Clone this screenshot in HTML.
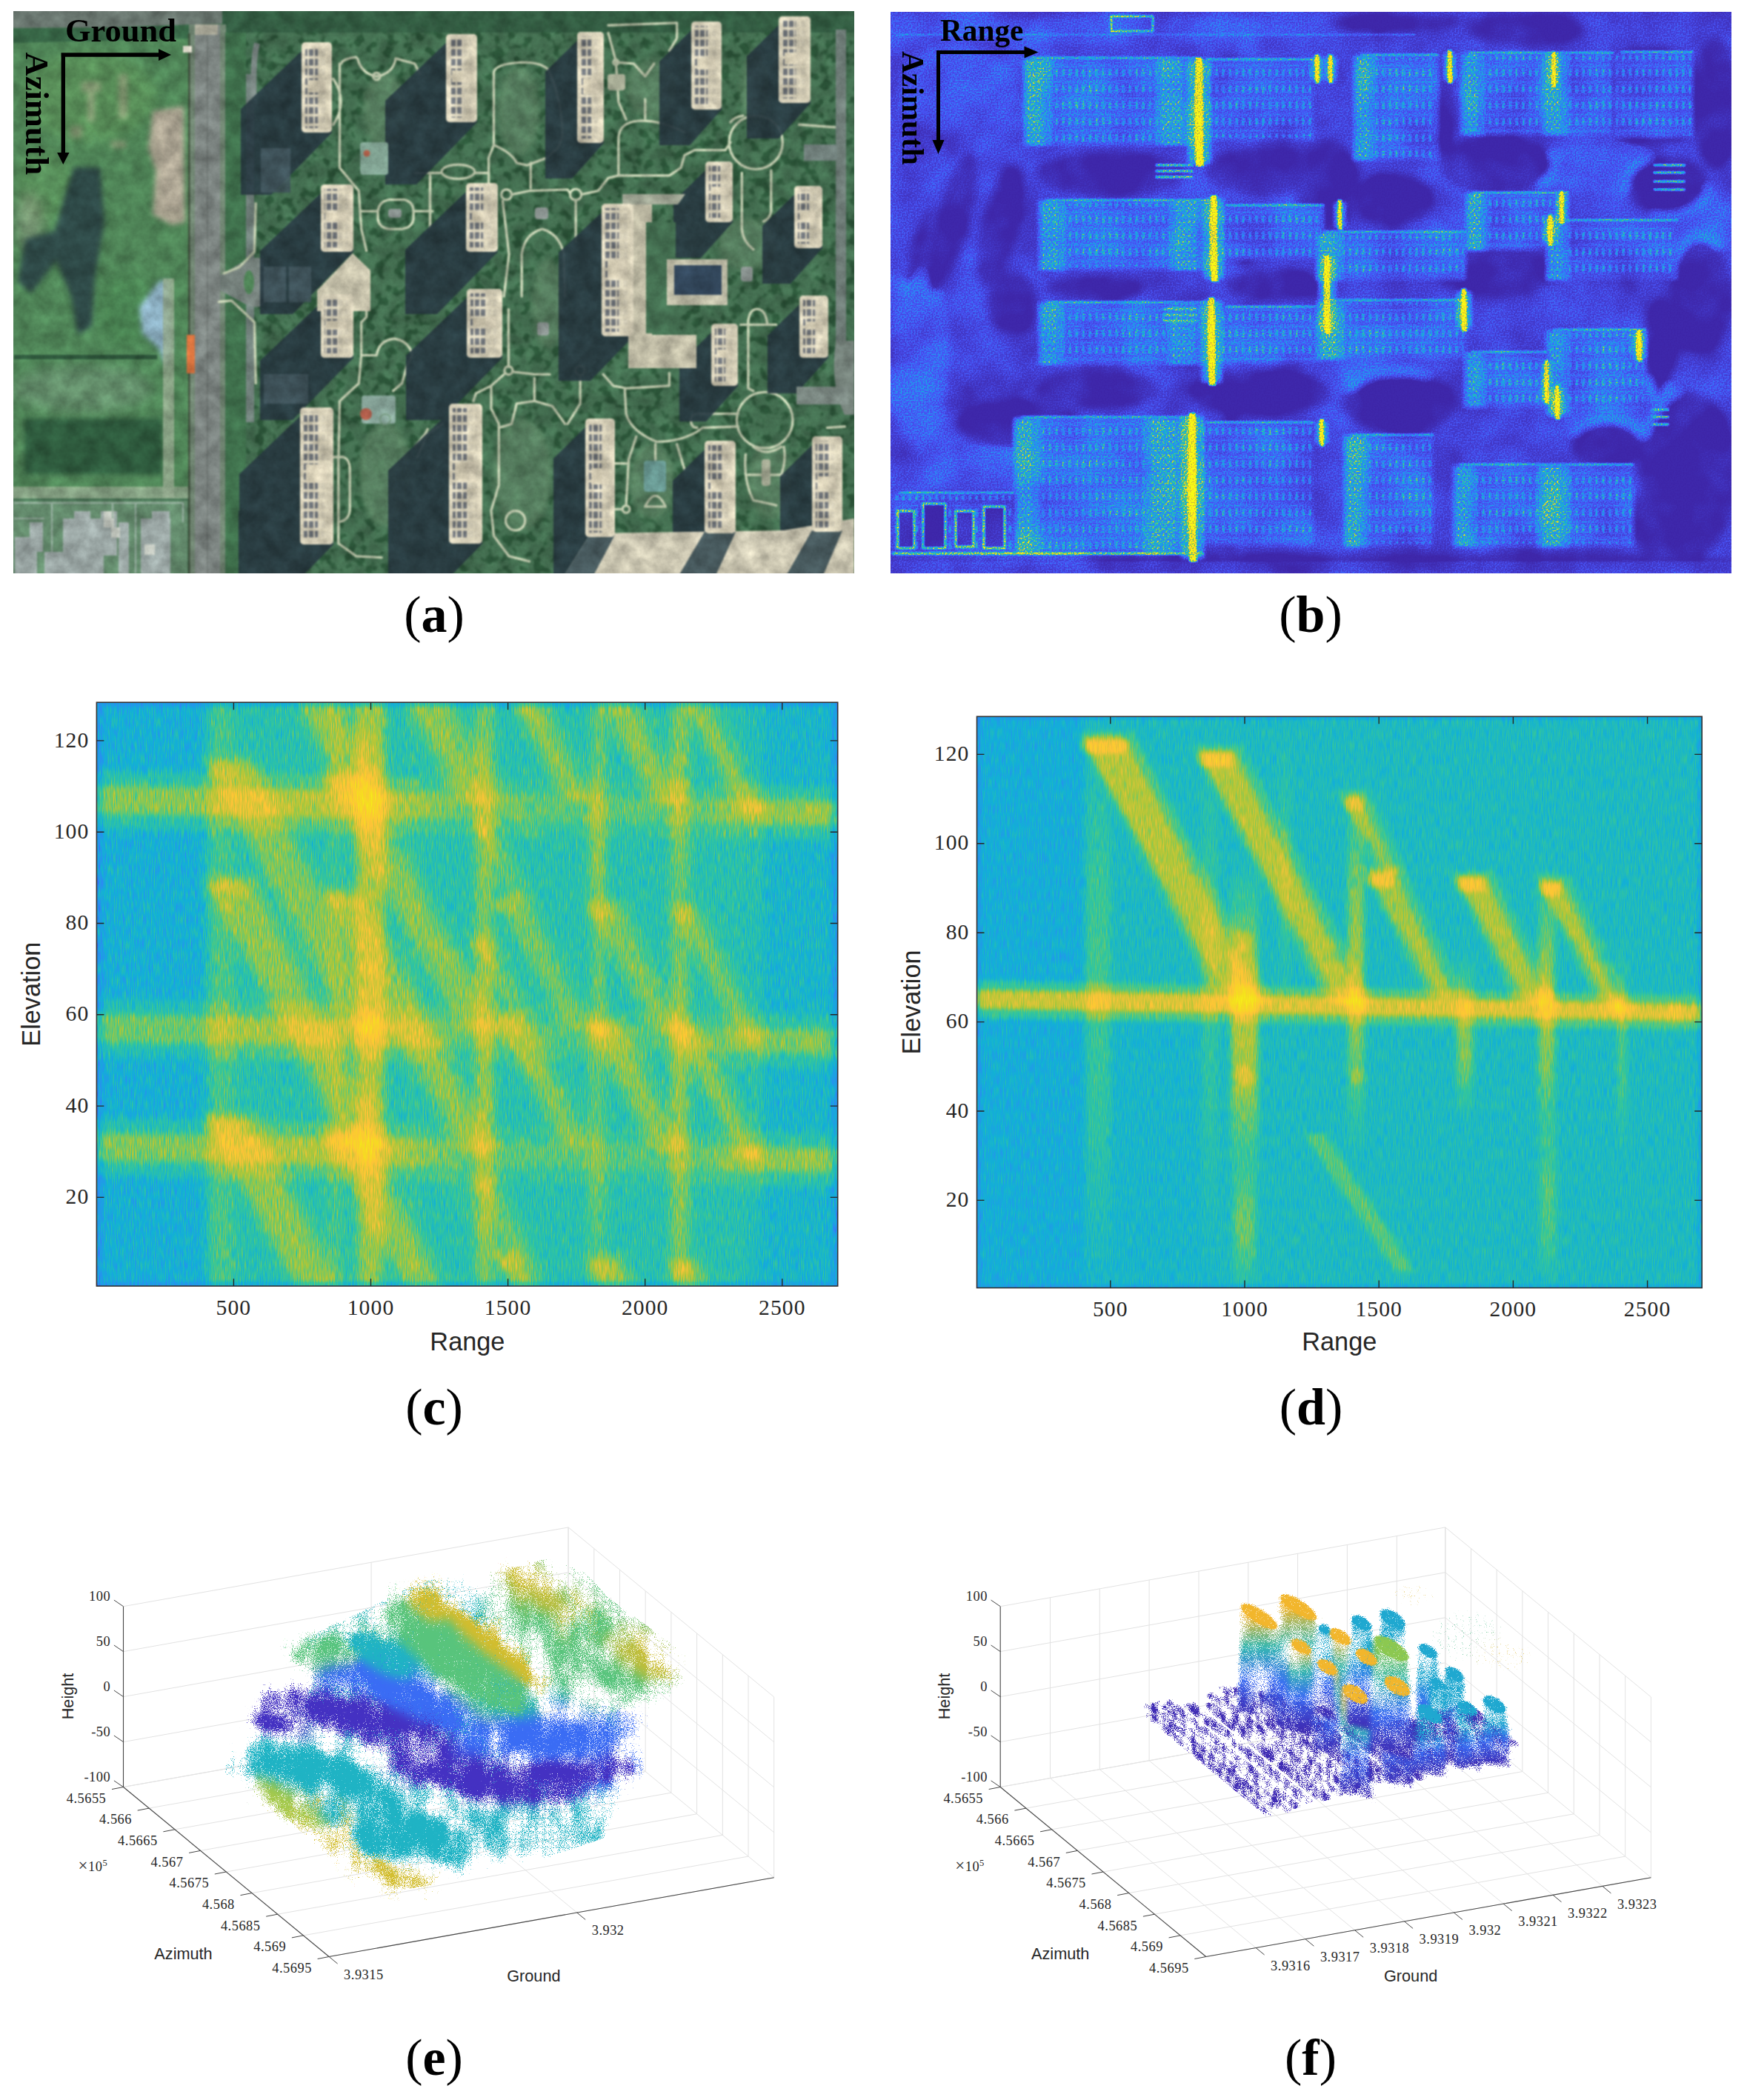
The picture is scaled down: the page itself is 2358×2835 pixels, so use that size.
<!DOCTYPE html>
<html lang="en"><head><meta charset="utf-8"><title>Figure</title>
<style>
html,body{margin:0;padding:0;background:#fff;}
#pg{position:relative;width:2358px;height:2835px;background:#fff;overflow:hidden;}
#pg svg{position:absolute;display:block;overflow:hidden;}
.cap{position:absolute;font-family:"Liberation Serif","DejaVu Serif",serif;font-size:70px;line-height:70px;color:#000;white-space:nowrap;transform:translateX(-50%);}
.cap b{font-weight:bold;}
text{white-space:pre;}
.tk{font-family:"Liberation Serif","DejaVu Serif",serif;fill:#262626;}
.lb{font-family:"Liberation Sans","DejaVu Sans",sans-serif;fill:#262626;}
.ov{font-family:"Liberation Serif","DejaVu Serif",serif;font-weight:bold;fill:#000;}
</style></head><body><div id="pg">
<svg style="left:18px;top:15px" width="1135" height="759" viewBox="18 15 1135 759">
<defs>
<filter id="fa" filterUnits="userSpaceOnUse" x="18" y="15" width="1135" height="759" color-interpolation-filters="sRGB">
<feGaussianBlur in="SourceGraphic" stdDeviation="1.3" result="I"/>
<feTurbulence type="fractalNoise" baseFrequency="0.045" numOctaves="4" seed="7" result="N"/>
<feColorMatrix in="N" type="matrix" values="1 0 0 0 0  1 0 0 0 0  1 0 0 0 0  0 0 0 0 1" result="Ng"/>
<feComposite in="I" in2="Ng" operator="arithmetic" k1="0.5" k2="0.75" k3="0" k4="0"/>
</filter>
<filter id="ft" filterUnits="userSpaceOnUse" x="18" y="15" width="1135" height="759" color-interpolation-filters="sRGB">
<feTurbulence type="fractalNoise" baseFrequency="0.075" numOctaves="2" seed="21"/>
<feColorMatrix type="matrix" values="0 0 0 0 0.17  0 0 0 0 0.33  0 0 0 0 0.22  7 0 0 0 -3.55" result="T"/>
<feComposite in="T" in2="SourceGraphic" operator="atop"/>
</filter>
<filter id="a8" x="-30%" y="-30%" width="160%" height="160%"><feGaussianBlur stdDeviation="8"/></filter>
<filter id="a3" x="-30%" y="-30%" width="160%" height="160%"><feGaussianBlur stdDeviation="3"/></filter>
<pattern id="pp" width="8" height="13" patternUnits="userSpaceOnUse"><rect x="1" y="1.5" width="6" height="9" fill="#59606c"/></pattern>
</defs>
<g filter="url(#fa)">
<rect x="13" y="10" width="1145" height="769" fill="#446f51"/>
<rect x="300" y="10" width="858" height="769" fill="#446f51" filter="url(#ft)"/>
<rect x="13" y="10" width="245" height="650" fill="#4f8457"/>
<g filter="url(#a8)">
<ellipse cx="120" cy="130" rx="90" ry="60" fill="#5a9058" opacity="0.8"/>
<ellipse cx="60" cy="250" rx="40" ry="50" fill="#5a9058" opacity="0.7"/>
<ellipse cx="170" cy="420" rx="40" ry="50" fill="#4a8552" opacity="0.7"/>
<ellipse cx="110" cy="525" rx="95" ry="32" fill="#6a9070" opacity="0.75"/>
<ellipse cx="40" cy="300" rx="18" ry="40" fill="#8a9a80" opacity="0.6"/>
</g>
<g filter="url(#a3)">
<polygon points="100,226 135,226 141,300 128,376 124,440 105,452 96,400 76,352 42,396 24,380 34,322 74,312 88,262" fill="#2f4a46"/>
<polygon points="206,150 248,143 250,300 232,304 206,290 210,230 200,200" fill="#a59f8c"/>
<polygon points="215,160 245,160 246,280 220,280" fill="#b5ad9a" opacity="0.7"/>
<rect x="110" y="110" width="26" height="14" fill="#8f9a78" opacity="0.75"/>
<rect x="118" y="124" width="10" height="40" fill="#8f9a78" opacity="0.75"/>
<rect x="160" y="100" width="12" height="60" fill="#8f9a78" opacity="0.75"/>
<rect x="95" y="170" width="16" height="16" fill="#8f9a78" opacity="0.75"/>
<rect x="150" y="190" width="20" height="10" fill="#8f9a78" opacity="0.75"/>
<polygon points="214,380 228,378 232,470 226,498 214,470 192,450 188,415" fill="#8fb3c6"/>
<rect x="33" y="565" width="186" height="75" fill="#2f5a3d"/>
</g>
<rect x="19" y="479" width="193" height="6" fill="#2c5339"/>
<rect x="13" y="657" width="245" height="16" fill="#8aa285" opacity="0.9"/>
<rect x="220" y="376" width="15" height="296" fill="#93a88d" opacity="0.85"/>
<rect x="13" y="676" width="240" height="105" fill="#638a6c"/>
<rect x="20" y="725" width="30" height="55" fill="#9aa6a4"/>
<rect x="40" y="705" width="18" height="40" fill="#9aa6a4"/>
<rect x="85" y="700" width="55" height="80" fill="#9aa6a4"/>
<rect x="100" y="690" width="22" height="20" fill="#9aa6a4"/>
<rect x="136" y="690" width="22" height="60" fill="#9aa6a4"/>
<rect x="160" y="705" width="14" height="75" fill="#9aa6a4"/>
<rect x="190" y="700" width="40" height="75" fill="#9aa6a4"/>
<rect x="205" y="690" width="24" height="30" fill="#9aa6a4"/>
<rect x="60" y="745" width="30" height="35" fill="#9aa6a4"/>
<rect x="140" y="690" width="14" height="22" fill="#c4c9c0"/>
<rect x="150" y="712" width="12" height="14" fill="#c4c9c0"/>
<rect x="195" y="735" width="14" height="14" fill="#c4c9c0"/>
<path d="M19 679H247V705 M70 679V745 M152 679V700 M183 679V774 M19 700H60" stroke="#93a99b" stroke-width="2.2" fill="none"/>
<path d="M13 10H300V32L150 37L13 38Z" fill="#69766f"/>
<path d="M13 38L150 37L262 33V52L13 58Z" fill="#356446" opacity="0.9"/>
<rect x="300" y="10" width="860" height="34" fill="#315a41" opacity="0.85"/>
<rect x="255" y="33" width="50" height="750" fill="#6e8370"/>
<rect x="263" y="33" width="34" height="750" fill="#7c8481"/>
<rect x="279" y="48" width="1.6" height="735" fill="#6b726f"/>
<rect x="254" y="45" width="2.5" height="735" fill="#3f4f3c"/>
<rect x="263" y="33" width="31" height="14" fill="#a8a797"/>
<rect x="252" y="452" width="11" height="52" fill="#d8743f"/>
<rect x="247" y="62" width="12" height="9" fill="#e8e4d4"/>
<rect x="304" y="44" width="28" height="740" fill="#3f704c"/>
<rect x="332" y="100" width="11" height="470" fill="#76827f" opacity="0.9"/>
<path d="M297 372 L330 352 Q348 345 356 350 L356 412 Q345 418 330 410 L297 392Z" fill="#78847f"/>
<ellipse cx="336" cy="381" rx="7" ry="16" fill="#4f8457"/>
<g filter="url(#a3)">
<ellipse cx="700" cy="150" rx="28" ry="60" fill="#5a8060" opacity="0.85"/>
<ellipse cx="520" cy="150" rx="30" ry="50" fill="#5a8060" opacity="0.85"/>
<ellipse cx="520" cy="640" rx="35" ry="70" fill="#5a8060" opacity="0.85"/>
<ellipse cx="705" cy="640" rx="40" ry="75" fill="#5a8060" opacity="0.85"/>
<ellipse cx="740" cy="410" rx="22" ry="60" fill="#5a8060" opacity="0.85"/>
<ellipse cx="880" cy="120" rx="35" ry="40" fill="#5a8060" opacity="0.85"/>
<ellipse cx="1010" cy="330" rx="40" ry="35" fill="#5a8060" opacity="0.85"/>
<ellipse cx="880" cy="650" rx="30" ry="50" fill="#5a8060" opacity="0.85"/>
<ellipse cx="1040" cy="650" rx="30" ry="50" fill="#5a8060" opacity="0.85"/>
<ellipse cx="1020" cy="120" rx="20" ry="50" fill="#5a8060" opacity="0.85"/>
<ellipse cx="880" cy="380" rx="40" ry="30" fill="#5a8060" opacity="0.85"/>
</g>
<g stroke="#bcc6aa" stroke-width="3.4" fill="none" stroke-linecap="round" stroke-linejoin="round">
<path d="M 666.5 195.8 L 666.5 97.9 Q 668.2 85.9 704.2 84.1 Q 731.7 84.1 740.3 94.4 Q 757.5 130.5 759.2 178.6 Q 757.5 199.2 745.5 206.1 L 738.6 212.9 L 711.1 223.2 L 697.4 219.8 Q 690.5 206.1 666.5 195.8 L 659.6 212.9 L 659.6 247.3"/>
<path d="M 640.7 233.5 L 659.6 233.5 M 690.5 262.7 L 714.5 257.6 L 766.1 255.9 L 769.5 261.0 M 784.6 262.7 L 807.3 257.6 L 821.0 240.4 L 834.8 237.0 L 903.4 237.0 L 918.9 226.7 L 924.0 209.5 L 937.8 202.6 L 979.0 202.6 L 985.9 192.3"/>
<path d="M 985.9 164.9 Q 991.0 158.0 1003.0 156.3 M 777.1 270.3 L 777.1 326.3 M 834.8 237.0 L 834.8 185.5 Q 836.5 164.9 862.2 163.1 Q 889.7 161.4 924.0 178.6"/>
<path d="M 821.0 44.6 L 831.3 82.4 L 834.8 137.4 L 845.1 161.4 M 831.3 84.1 L 855.4 85.9 L 870.8 103.0 L 882.8 85.9 M 870.8 133.9 L 870.8 159.7 M 821.0 34.3 L 913.7 30.9 L 913.7 51.5 L 903.4 68.7"/>
<path d="M 1001.3 233.5 L 1001.3 309.1 Q 1003.0 326.3 1016.8 336.6 M 1040.8 230.1 L 1040.8 285.1 Q 1039.1 295.4 1030.5 298.8 M 1078.6 168.3 L 1126.7 171.7 M 716.3 219.8 L 716.3 254.1"/>
<path d="M 704.2 400.1 L 704.2 343.4 Q 707.7 316.0 731.7 309.1 Q 755.8 316.0 760.9 343.4 L 762.6 400.1 M 580.6 237.0 L 580.6 302.2 M 560.0 233.5 L 594.3 233.5 M 678.5 271.3 L 687.1 343.4 L 680.2 400.1"/>
<path d="M 686.4 417.8 L 686.4 495.1 M 691.9 501.9 L 721.4 505.4 L 742.0 505.4 M 680.2 505.4 L 663.0 520.8 L 663.0 551.7 L 673.3 572.3 L 673.3 654.8 L 663.0 689.1 L 666.5 723.4 L 687.1 750.9 L 714.5 757.8"/>
<path d="M 663.0 520.8 L 642.4 531.1 L 639.0 541.4 M 673.3 577.5 L 690.5 572.3 L 697.4 544.9 L 721.4 541.4 L 721.4 510.5 M 721.4 541.4 L 745.5 548.3 L 762.6 572.3 M 783.2 506.4 L 783.2 544.9 L 766.1 572.3"/>
<path d="M 814.1 505.4 L 827.9 520.8 L 845.1 524.2 L 903.4 520.8 L 903.4 503.6 M 843.3 524.2 L 845.1 558.6 Q 851.9 582.6 886.3 596.4 Q 917.2 596.4 941.2 582.6 L 948.1 577.5 L 996.2 575.8"/>
<path d="M 996.2 558.6 L 941.2 558.6 Q 932.6 558.6 932.6 567.2 Q 932.6 577.5 941.2 577.5 M 858.8 589.5 L 848.5 620.4 L 845.1 682.2 M 884.6 599.8 L 884.6 620.4 M 913.7 599.8 L 924.0 634.1 M 831.3 625.6 L 845.1 625.6 M 831.3 687.4 L 839.9 687.4"/>
<path d="M 870.8 683.9 Q 884.6 654.8 898.3 683.9 Z M 1009.9 431.5 L 1009.9 524.2 L 1016.8 527.7 M 1009.9 438.4 Q 1009.9 417.8 1021.9 417.1 Q 1033.9 417.8 1035.7 438.4 M 999.6 438.4 L 1047.7 438.4"/>
<path d="M 1006.5 613.5 Q 1003.0 647.9 1016.8 675.4 L 1047.7 682.2 M 1058.0 603.2 Q 1061.4 620.4 1054.6 641.0 M 1009.9 641.0 L 1058.0 641.0 M 1016.8 603.2 Q 1033.9 617.0 1054.6 603.2 M 560.0 603.2 L 573.7 586.1 L 577.2 579.2 M 1116.4 577.5 L 1140.4 575.8"/>
<path d="M 458.5 85.9 L 458.5 226.7 L 484.3 257.6 L 487.7 309.1 L 494.6 338.3 M 449.9 106.5 Q 470.5 137.4 449.9 168.3 M 460.2 85.9 Q 463.6 79.0 480.8 77.3"/>
<path d="M 482.5 79.0 Q 487.7 99.6 508.3 103.0 Q 530.6 99.6 534.1 79.0 L 559.8 85.9 L 566.7 99.6"/>
<path d="M 510.0 285.1 Q 511.7 271.3 525.5 269.6 L 546.1 269.6 Q 558.1 273.0 558.1 285.1 L 558.1 295.4 Q 556.4 307.4 542.6 309.1 L 525.5 309.1 Q 511.7 307.4 510.0 295.4 Z M 487.7 285.1 L 510.0 285.1 M 558.1 285.1 L 583.9 285.1 M 580.4 237.0 L 580.4 309.1"/>
<path d="M 302.2 369.2 L 322.8 360.6 L 343.4 340.0 L 345.2 274.8"/>
<path d="M 494.6 380.0 L 494.6 428.1 L 487.7 435.0 L 487.7 479.6 L 508.3 479.6 M 487.7 479.6 L 484.3 517.4 L 458.5 541.4 L 456.8 620.4 L 456.8 733.7 L 480.8 750.9 L 515.2 752.6"/>
<path d="M 449.9 617.0 L 463.6 617.0 Q 472.2 620.4 472.2 634.1 L 472.2 689.1 Q 470.5 702.8 456.8 704.6 M 508.3 479.6 Q 511.7 459.0 532.3 457.3 Q 552.9 460.7 556.4 479.6 L 549.5 493.3 L 542.6 517.4 L 530.6 527.7"/>
<path d="M 295.4 407.5 L 312.5 405.8 L 343.4 435.0 L 345.2 517.4 M 563.2 617.0 L 577.0 586.1 L 597.6 572.3"/>
<ellipse cx="618.4" cy="231.8" rx="22.3" ry="9.6"/>
<ellipse cx="683.6" cy="262.7" rx="6.9" ry="6.9"/>
<ellipse cx="777.1" cy="262.7" rx="7.6" ry="7.6"/>
<ellipse cx="1020.2" cy="192.3" rx="36.1" ry="36.1"/>
<ellipse cx="831.3" cy="84.1" rx="3.4" ry="3.4"/>
<ellipse cx="686.4" cy="500.2" rx="5.5" ry="5.5"/>
<ellipse cx="783.2" cy="500.2" rx="6.2" ry="6.2"/>
<ellipse cx="1032.2" cy="567.2" rx="37.8" ry="37.8"/>
<ellipse cx="845.1" cy="687.4" rx="4.8" ry="4.8"/>
<ellipse cx="695.7" cy="702.8" rx="13.1" ry="13.1"/>
<ellipse cx="508.3" cy="103.0" rx="4.8" ry="4.8"/>
</g>
<path d="M 346.9 58.4 Q 340.0 85.9 343.4 144.2" stroke="#76827f" stroke-width="8" fill="none"/>
<g opacity="0.93">
<polygon points="409,67 325,147 325,263 366,263 448,179 448,67" fill="#283a41"/>
<polygon points="604,56 520,136 520,249 562,249 644,165 644,56" fill="#283a41"/>
<polygon points="781,53 736,97 736,241 772,241 815,193 815,53" fill="#283a41"/>
<polygon points="935,39 890,83 890,196 931,196 974,148 974,39" fill="#283a41"/>
<polygon points="1053,32 1008,76 1008,187 1051,187 1094,139 1094,32" fill="#283a41"/>
<polygon points="435,259 351,339 351,424 395,424 477,340 477,259" fill="#283a41"/>
<polygon points="631,257 547,337 547,424 590,424 672,340 672,257" fill="#283a41"/>
<polygon points="954,228 909,272 909,348 946,348 989,300 989,228" fill="#283a41"/>
<polygon points="1074,261 1029,305 1029,383 1067,383 1110,335 1110,261" fill="#283a41"/>
<polygon points="435,407 351,487 351,567 395,567 477,483 477,407" fill="#283a41"/>
<polygon points="632,400 548,480 548,567 596,567 678,483 678,400" fill="#283a41"/>
<polygon points="962,447 917,491 917,569 953,569 996,521 996,447" fill="#283a41"/>
<polygon points="1081,409 1036,453 1036,531 1075,531 1118,483 1118,409" fill="#283a41"/>
<polygon points="407,560 323,640 323,819 368,819 450,735 450,560" fill="#283a41"/>
<polygon points="608,555 524,635 524,818 569,818 651,734 651,555" fill="#283a41"/>
<polygon points="792,575 747,619 747,773 787,773 830,725 830,575" fill="#283a41"/>
<polygon points="953,605 908,649 908,768 950,768 993,720 993,605" fill="#283a41"/>
<polygon points="1098,599 1053,643 1053,766 1094,766 1137,718 1137,599" fill="#283a41"/>
<polygon points="814,285 754,341 754,514 797,514 855,454 855,285" fill="#283a41"/>
<polygon points="322,690 405,620 405,779 322,779" fill="#283a41"/>
<polygon points="524,690 606,620 606,779 524,779" fill="#283a41"/>
<polygon points="747,640 790,600 790,779 747,779" fill="#283a41"/>
<polygon points="908,660 951,620 951,779 908,779" fill="#283a41"/>
<polygon points="1055,660 1096,620 1096,760 1055,770" fill="#283a41"/>
</g>
<rect x="356" y="360" width="30" height="48" fill="#40535a" opacity="0.9"/>
<rect x="390" y="360" width="30" height="48" fill="#40535a" opacity="0.9"/>
<rect x="356" y="505" width="60" height="40" fill="#40535a" opacity="0.9"/>
<rect x="352" y="200" width="40" height="60" fill="#40535a" opacity="0.9"/>
<polygon points="476,342 500,365 500,420 428,420 428,392" fill="#c9c4ad"/>
<path d="M797 720 L1058 716 L1153 700 L1153 779 L760 779Z" fill="#cbc6b1"/>
<polygon points="797,720 760,779 800,779 830,722" fill="#485a5e"/>
<polygon points="951,718 915,779 965,779 993,718" fill="#485a5e"/>
<polygon points="1096,716 1060,779 1110,779 1137,716" fill="#485a5e"/>
<rect x="1128" y="40" width="14" height="420" fill="#6f7d78"/>
<path d="M1128 460 Q1120 520 1140 560 L1153 560 L1153 460Z" fill="#76837c"/>
<rect x="1075" y="522" width="70" height="24" fill="#7d8a84"/>
<rect x="1085" y="195" width="45" height="22" fill="#71807c"/>
<path d="M848 276 L880 276 L880 452 L940 452 L940 497 L848 497Z" fill="#bdb9a3"/>
<rect x="872" y="300" width="40" height="150" fill="#446f51"/>
<rect x="900" y="350" width="82" height="62" fill="#b9b7a2"/>
<rect x="910" y="358" width="64" height="40" fill="#32465a"/>
<path d="M840 262 H925 L915 276 H840Z" fill="#9aa08f"/>
<rect x="524" y="282" width="18" height="12" rx="4" fill="#8a9390"/>
<rect x="722" y="280" width="18" height="16" rx="4" fill="#8a9390"/>
<rect x="725" y="435" width="16" height="18" rx="4" fill="#8a9390"/>
<rect x="1000" y="360" width="16" height="20" rx="4" fill="#8a9390"/>
<rect x="869" y="622" width="30" height="42" rx="4" fill="#6a9a94"/>
<rect x="1028" y="620" width="12" height="36" rx="4" fill="#a3a892"/>
<rect x="486" y="192" width="38" height="44" rx="4" fill="#7fa090"/>
<rect x="488" y="534" width="46" height="38" rx="4" fill="#86a398"/>
<rect x="820" y="100" width="24" height="22" rx="4" fill="#a8ad96"/>
<circle cx="495" cy="207" r="4.5" fill="#b0604a"/><circle cx="494" cy="559" r="8" fill="#a85a48"/><circle cx="520" cy="566" r="7" fill="none" stroke="#6f8f78" stroke-width="2"/>
<rect x="407" y="57" width="41" height="122" rx="5" fill="#d6cfb8"/>
<rect x="412" y="63" width="29" height="110" fill="url(#pp)" opacity="0.85"/>
<rect x="415" y="108" width="25" height="17" fill="#d2cab2"/>
<rect x="429" y="61" width="15" height="114" fill="#d2cab2" opacity="0.9"/>
<rect x="602" y="46" width="42" height="119" rx="5" fill="#d6cfb8"/>
<rect x="607" y="52" width="30" height="107" fill="url(#pp)" opacity="0.85"/>
<rect x="610" y="95" width="26" height="16" fill="#d2cab2"/>
<rect x="625" y="50" width="15" height="111" fill="#d2cab2" opacity="0.9"/>
<rect x="779" y="43" width="36" height="150" rx="5" fill="#d6cfb8"/>
<rect x="784" y="49" width="24" height="138" fill="url(#pp)" opacity="0.85"/>
<rect x="787" y="106" width="20" height="21" fill="#d2cab2"/>
<rect x="798" y="47" width="13" height="142" fill="#d2cab2" opacity="0.9"/>
<rect x="933" y="29" width="41" height="119" rx="5" fill="#d6cfb8"/>
<rect x="938" y="35" width="29" height="107" fill="url(#pp)" opacity="0.85"/>
<rect x="941" y="78" width="25" height="16" fill="#d2cab2"/>
<rect x="955" y="33" width="15" height="111" fill="#d2cab2" opacity="0.9"/>
<rect x="1051" y="22" width="43" height="117" rx="5" fill="#d6cfb8"/>
<rect x="1056" y="28" width="31" height="105" fill="url(#pp)" opacity="0.85"/>
<rect x="1059" y="71" width="27" height="16" fill="#d2cab2"/>
<rect x="1074" y="26" width="16" height="109" fill="#d2cab2" opacity="0.9"/>
<rect x="433" y="249" width="44" height="91" rx="5" fill="#d6cfb8"/>
<rect x="438" y="255" width="32" height="79" fill="url(#pp)" opacity="0.85"/>
<rect x="441" y="287" width="28" height="12" fill="#d2cab2"/>
<rect x="457" y="253" width="16" height="83" fill="#d2cab2" opacity="0.9"/>
<rect x="629" y="247" width="43" height="93" rx="5" fill="#d6cfb8"/>
<rect x="634" y="253" width="31" height="81" fill="url(#pp)" opacity="0.85"/>
<rect x="637" y="286" width="27" height="13" fill="#d2cab2"/>
<rect x="652" y="251" width="16" height="85" fill="#d2cab2" opacity="0.9"/>
<rect x="952" y="218" width="37" height="82" rx="5" fill="#d6cfb8"/>
<rect x="957" y="224" width="25" height="70" fill="url(#pp)" opacity="0.85"/>
<rect x="960" y="252" width="21" height="11" fill="#d2cab2"/>
<rect x="972" y="222" width="14" height="74" fill="#d2cab2" opacity="0.9"/>
<rect x="1072" y="251" width="38" height="84" rx="5" fill="#d6cfb8"/>
<rect x="1077" y="257" width="26" height="72" fill="url(#pp)" opacity="0.85"/>
<rect x="1080" y="286" width="22" height="11" fill="#d2cab2"/>
<rect x="1092" y="255" width="14" height="76" fill="#d2cab2" opacity="0.9"/>
<rect x="433" y="397" width="44" height="86" rx="5" fill="#d6cfb8"/>
<rect x="438" y="403" width="32" height="74" fill="url(#pp)" opacity="0.85"/>
<rect x="441" y="433" width="28" height="12" fill="#d2cab2"/>
<rect x="457" y="401" width="16" height="78" fill="#d2cab2" opacity="0.9"/>
<rect x="630" y="390" width="48" height="93" rx="5" fill="#d6cfb8"/>
<rect x="635" y="396" width="36" height="81" fill="url(#pp)" opacity="0.85"/>
<rect x="638" y="429" width="32" height="13" fill="#d2cab2"/>
<rect x="656" y="394" width="18" height="85" fill="#d2cab2" opacity="0.9"/>
<rect x="960" y="437" width="36" height="84" rx="5" fill="#d6cfb8"/>
<rect x="965" y="443" width="24" height="72" fill="url(#pp)" opacity="0.85"/>
<rect x="968" y="472" width="20" height="11" fill="#d2cab2"/>
<rect x="979" y="441" width="13" height="76" fill="#d2cab2" opacity="0.9"/>
<rect x="1079" y="399" width="39" height="84" rx="5" fill="#d6cfb8"/>
<rect x="1084" y="405" width="27" height="72" fill="url(#pp)" opacity="0.85"/>
<rect x="1087" y="434" width="23" height="11" fill="#d2cab2"/>
<rect x="1100" y="403" width="14" height="76" fill="#d2cab2" opacity="0.9"/>
<rect x="405" y="550" width="45" height="185" rx="5" fill="#d6cfb8"/>
<rect x="410" y="556" width="33" height="173" fill="url(#pp)" opacity="0.85"/>
<rect x="413" y="627" width="29" height="25" fill="#d2cab2"/>
<rect x="429" y="554" width="17" height="177" fill="#d2cab2" opacity="0.9"/>
<rect x="606" y="545" width="45" height="189" rx="5" fill="#d6cfb8"/>
<rect x="611" y="551" width="33" height="177" fill="url(#pp)" opacity="0.85"/>
<rect x="614" y="624" width="29" height="26" fill="#d2cab2"/>
<rect x="630" y="549" width="17" height="181" fill="#d2cab2" opacity="0.9"/>
<rect x="790" y="565" width="40" height="160" rx="5" fill="#d6cfb8"/>
<rect x="795" y="571" width="28" height="148" fill="url(#pp)" opacity="0.85"/>
<rect x="798" y="632" width="24" height="22" fill="#d2cab2"/>
<rect x="812" y="569" width="15" height="152" fill="#d2cab2" opacity="0.9"/>
<rect x="951" y="595" width="42" height="125" rx="5" fill="#d6cfb8"/>
<rect x="956" y="601" width="30" height="113" fill="url(#pp)" opacity="0.85"/>
<rect x="959" y="647" width="26" height="17" fill="#d2cab2"/>
<rect x="974" y="599" width="15" height="117" fill="#d2cab2" opacity="0.9"/>
<rect x="1096" y="589" width="41" height="129" rx="5" fill="#d6cfb8"/>
<rect x="1101" y="595" width="29" height="117" fill="url(#pp)" opacity="0.85"/>
<rect x="1104" y="643" width="25" height="18" fill="#d2cab2"/>
<rect x="1118" y="593" width="15" height="121" fill="#d2cab2" opacity="0.9"/>
<rect x="812" y="275" width="43" height="179" rx="5" fill="#d6cfb8"/>
<rect x="817" y="281" width="31" height="167" fill="url(#pp)" opacity="0.85"/>
<rect x="820" y="350" width="27" height="25" fill="#d2cab2"/>
<rect x="835" y="279" width="16" height="171" fill="#d2cab2" opacity="0.9"/>
</g>
<text class="ov" x="88" y="55.5" font-size="44.5">Ground</text>
<text class="ov" transform="translate(34.5,70.5) rotate(90)" font-size="44.5">Azimuth</text>
<path d="M82.5 74H217 M85.3 71.3V208" stroke="#000" stroke-width="5.4" fill="none"/>
<path d="M231 74l-17 -8v16z M85.3 222l-8.2 -16h16.4z" fill="#000"/>
</svg>
<svg style="left:1202px;top:16px" width="1135" height="758" viewBox="1202 16 1135 758">
<defs>
<filter id="fb" filterUnits="userSpaceOnUse" x="1202" y="16" width="1135" height="758" color-interpolation-filters="sRGB">
<feGaussianBlur in="SourceGraphic" stdDeviation="1.2" result="I0"/>
<feTurbulence type="fractalNoise" baseFrequency="0.014" numOctaves="3" seed="5" result="L"/>
<feColorMatrix in="L" type="matrix" values="1 0 0 0 0  1 0 0 0 0  1 0 0 0 0  0 0 0 0 1" result="Lg"/>
<feComposite in="I0" in2="Lg" operator="arithmetic" k1="0.5" k2="0.75" k3="0.14" k4="-0.07" result="I"/>
<feTurbulence type="fractalNoise" baseFrequency="0.5" numOctaves="2" seed="2" result="N"/>
<feColorMatrix in="N" type="matrix" values="3.2 0 0 0 -1.1  3.2 0 0 0 -1.1  3.2 0 0 0 -1.1  0 0 0 0 1" result="Ng0"/>
<feComponentTransfer in="Ng0" result="Ng"><feFuncR type="gamma" exponent="1.6"/><feFuncG type="gamma" exponent="1.6"/><feFuncB type="gamma" exponent="1.6"/></feComponentTransfer>
<feComposite in="I" in2="Ng" operator="arithmetic" k1="1.0" k2="0.68" k3="0.008" k4="0" result="S"/>
<feComponentTransfer in="S"><feFuncR type="table" tableValues="0.243 0.253 0.263 0.273 0.282 0.257 0.231 0.206 0.180 0.153 0.125 0.098 0.071 0.107 0.143 0.179 0.216 0.329 0.443 0.557 0.671 0.752 0.833 0.915 0.996 0.987 0.978 0.970 0.961 0.965 0.969 0.973 0.976"/><feFuncG type="table" tableValues="0.149 0.192 0.235 0.278 0.322 0.374 0.425 0.477 0.529 0.571 0.612 0.653 0.694 0.717 0.739 0.762 0.784 0.783 0.782 0.781 0.780 0.776 0.773 0.769 0.765 0.793 0.822 0.850 0.878 0.905 0.931 0.958 0.984"/><feFuncB type="table" tableValues="0.659 0.733 0.808 0.882 0.957 0.960 0.963 0.966 0.969 0.936 0.904 0.872 0.839 0.777 0.716 0.654 0.592 0.500 0.408 0.316 0.224 0.223 0.222 0.221 0.220 0.194 0.169 0.143 0.118 0.109 0.100 0.091 0.082"/><feFuncA type="linear" slope="0" intercept="1"/></feComponentTransfer>
</filter>
<filter id="bb" x="-30%" y="-30%" width="160%" height="160%"><feGaussianBlur stdDeviation="6"/></filter>
<filter id="bs" x="-30%" y="-30%" width="160%" height="160%"><feGaussianBlur stdDeviation="2.5"/></filter>
<pattern id="pw" width="9" height="22" patternUnits="userSpaceOnUse"><rect x="3" y="5" width="2.2" height="10" fill="#fff" opacity="0.3"/><rect x="0" y="0" width="9" height="1.6" fill="#fff" opacity="0.1"/></pattern>
<pattern id="pg" width="5" height="4" patternUnits="userSpaceOnUse"><rect x="0" y="0" width="2" height="2" fill="#fff" opacity="0.55"/><rect x="3" y="2" width="1.6" height="1.6" fill="#fff" opacity="0.3"/></pattern><pattern id="pg2" width="7" height="9" patternUnits="userSpaceOnUse"><rect x="1" y="1" width="2.2" height="3" fill="#fff" opacity="0.7"/><rect x="4.5" y="5" width="2" height="2.4" fill="#fff" opacity="0.6"/></pattern>
</defs>
<g filter="url(#fb)">
<rect x="1197" y="11" width="1145" height="768" fill="rgb(22,22,22)"/>
<g filter="url(#bb)">
<ellipse cx="1290" cy="120" rx="80" ry="60" fill="#fff" opacity="0.06"/>
<ellipse cx="1240" cy="480" rx="40" ry="120" fill="#fff" opacity="0.06"/>
<ellipse cx="1330" cy="640" rx="80" ry="30" fill="#fff" opacity="0.05"/>
<ellipse cx="2200" cy="560" rx="90" ry="50" fill="#fff" opacity="0.07"/>
<ellipse cx="1870" cy="510" rx="60" ry="25" fill="#fff" opacity="0.08"/>
<ellipse cx="2150" cy="230" rx="100" ry="30" fill="#fff" opacity="0.06"/>
<ellipse cx="2280" cy="300" rx="50" ry="60" fill="#fff" opacity="0.05"/>
<ellipse cx="1500" cy="40" rx="250" ry="18" fill="#fff" opacity="0.05"/>
<ellipse cx="1366" cy="410" rx="33" ry="43" fill="rgb(6,6,6)" opacity="0.97" transform="rotate(0 1366 410)"/>
<ellipse cx="1375" cy="572" rx="84" ry="34" fill="rgb(6,6,6)" opacity="0.97" transform="rotate(0 1375 572)"/>
<ellipse cx="2020" cy="222" rx="78" ry="41" fill="rgb(6,6,6)" opacity="0.97" transform="rotate(0 2020 222)"/>
<ellipse cx="2316" cy="140" rx="31" ry="92" fill="rgb(6,6,6)" opacity="0.97" transform="rotate(0 2316 140)"/>
<ellipse cx="2020" cy="368" rx="80" ry="36" fill="rgb(6,6,6)" opacity="0.97" transform="rotate(0 2020 368)"/>
<ellipse cx="2230" cy="130" rx="78" ry="69" fill="rgb(6,6,6)" opacity="0.97" transform="rotate(0 2230 130)"/>
<ellipse cx="2060" cy="40" rx="78" ry="25" fill="rgb(6,6,6)" opacity="0.97" transform="rotate(0 2060 40)"/>
<ellipse cx="1710" cy="232" rx="84" ry="34" fill="rgb(6,6,6)" opacity="0.97" transform="rotate(0 1710 232)"/>
<ellipse cx="1720" cy="385" rx="67" ry="23" fill="rgb(6,6,6)" opacity="0.97" transform="rotate(0 1720 385)"/>
<ellipse cx="1700" cy="530" rx="95" ry="34" fill="rgb(6,6,6)" opacity="0.97" transform="rotate(0 1700 530)"/>
<ellipse cx="2280" cy="640" rx="67" ry="114" fill="rgb(6,6,6)" opacity="0.97" transform="rotate(0 2280 640)"/>
<ellipse cx="1890" cy="545" rx="78" ry="43" fill="rgb(6,6,6)" opacity="0.97" transform="rotate(0 1890 545)"/>
<ellipse cx="1790" cy="250" rx="44" ry="63" fill="rgb(6,6,6)" opacity="0.97" transform="rotate(0 1790 250)"/>
<ellipse cx="2170" cy="600" rx="50" ry="34" fill="rgb(6,6,6)" opacity="0.97" transform="rotate(0 2170 600)"/>
<ellipse cx="1500" cy="235" rx="100" ry="32" fill="rgb(6,6,6)" opacity="0.97" transform="rotate(0 1500 235)"/>
<ellipse cx="1480" cy="390" rx="67" ry="18" fill="rgb(6,6,6)" opacity="0.97" transform="rotate(0 1480 390)"/>
<ellipse cx="1880" cy="270" rx="56" ry="36" fill="rgb(6,6,6)" opacity="0.97" transform="rotate(0 1880 270)"/>
<ellipse cx="2295" cy="400" rx="44" ry="80" fill="rgb(6,6,6)" opacity="0.97" transform="rotate(0 2295 400)"/>
<ellipse cx="1480" cy="525" rx="84" ry="29" fill="rgb(6,6,6)" opacity="0.97" transform="rotate(0 1480 525)"/>
<ellipse cx="2250" cy="250" rx="56" ry="40" fill="rgb(6,6,6)" opacity="0.97" transform="rotate(0 2250 250)"/>
<ellipse cx="1700" cy="760" rx="224" ry="16" fill="rgb(6,6,6)" opacity="0.97" transform="rotate(0 1700 760)"/>
<ellipse cx="2100" cy="760" rx="224" ry="16" fill="rgb(6,6,6)" opacity="0.97" transform="rotate(0 2100 760)"/>
<ellipse cx="1660" cy="130" rx="22" ry="57" fill="rgb(6,6,6)" opacity="0.97" transform="rotate(0 1660 130)"/>
<ellipse cx="1680" cy="320" rx="22" ry="41" fill="rgb(6,6,6)" opacity="0.97" transform="rotate(0 1680 320)"/>
<ellipse cx="1680" cy="450" rx="22" ry="41" fill="rgb(6,6,6)" opacity="0.97" transform="rotate(0 1680 450)"/>
<ellipse cx="1660" cy="650" rx="22" ry="92" fill="rgb(6,6,6)" opacity="0.97" transform="rotate(0 1660 650)"/>
<ellipse cx="2150" cy="520" rx="44" ry="34" fill="rgb(6,6,6)" opacity="0.97" transform="rotate(0 2150 520)"/>
<ellipse cx="1950" cy="150" rx="15" ry="69" fill="rgb(6,6,6)" opacity="0.97" transform="rotate(0 1950 150)"/>
<ellipse cx="2240" cy="470" rx="20" ry="69" fill="rgb(6,6,6)" opacity="0.97" transform="rotate(0 2240 470)"/>
<ellipse cx="1880" cy="30" rx="89" ry="13" fill="rgb(6,6,6)" opacity="0.97" transform="rotate(0 1880 30)"/>
<ellipse cx="2230" cy="700" rx="33" ry="46" fill="rgb(6,6,6)" opacity="0.97" transform="rotate(0 2230 700)"/>
<ellipse cx="1285" cy="300" rx="24" ry="100" fill="rgb(6,6,6)" transform="rotate(16 1285 300)" filter="url(#bs)"/>
<ellipse cx="1350" cy="305" rx="26" ry="88" fill="rgb(6,6,6)" transform="rotate(14 1350 305)" filter="url(#bs)"/>
<ellipse cx="1240" cy="335" rx="10" ry="55" fill="rgb(6,6,6)" transform="rotate(15 1240 335)" filter="url(#bs)"/>
<ellipse cx="1372" cy="402" rx="24" ry="30" fill="rgb(6,6,6)" transform="rotate(0 1372 402)" filter="url(#bs)"/>
<ellipse cx="1385" cy="572" rx="66" ry="24" fill="rgb(6,6,6)" transform="rotate(0 1385 572)" filter="url(#bs)"/>
<rect x="1202" y="758" width="1135" height="20" fill="rgb(10,10,10)" opacity="0.7"/>
</g>
<rect x="1382" y="78" width="236" height="118" fill="rgb(38,38,38)" filter="url(#bs)"/>
<rect x="1386" y="82" width="228" height="110" fill="url(#pw)"/>
<rect x="1392" y="77" width="226" height="2.2" fill="rgb(115,115,115)"/>
<rect x="1382" y="80" width="38" height="116" fill="rgb(72,72,72)" filter="url(#bs)" opacity="0.9"/>
<rect x="1382" y="80" width="38" height="116" fill="url(#pg)" opacity="0.55"/>
<rect x="1387.7" y="80" width="20.9" height="116" fill="url(#pg2)" opacity="0.8"/>
<rect x="1560" y="80" width="52" height="116" fill="rgb(67,67,67)" filter="url(#bs)" opacity="0.9"/>
<rect x="1560" y="80" width="52" height="116" fill="url(#pg)" opacity="0.55"/>
<rect x="1567.8" y="80" width="28.6" height="116" fill="url(#pg2)" opacity="0.8"/>
<rect x="1618" y="80" width="155" height="110" fill="rgb(32,32,32)" filter="url(#bs)"/>
<rect x="1622" y="84" width="147" height="102" fill="url(#pw)"/>
<rect x="1628" y="79" width="145" height="2.2" fill="rgb(115,115,115)"/>
<rect x="1827" y="74" width="115" height="142" fill="rgb(36,36,36)" filter="url(#bs)"/>
<rect x="1831" y="78" width="107" height="134" fill="url(#pw)"/>
<rect x="1837" y="73" width="105" height="2.2" fill="rgb(115,115,115)"/>
<rect x="1827" y="76" width="29" height="140" fill="rgb(67,67,67)" filter="url(#bs)" opacity="0.9"/>
<rect x="1827" y="76" width="29" height="140" fill="url(#pg)" opacity="0.55"/>
<rect x="1831.3" y="76" width="16.0" height="140" fill="url(#pg2)" opacity="0.8"/>
<rect x="1972" y="71" width="206" height="111" fill="rgb(36,36,36)" filter="url(#bs)"/>
<rect x="1976" y="75" width="198" height="103" fill="url(#pw)"/>
<rect x="1982" y="70" width="196" height="2.2" fill="rgb(115,115,115)"/>
<rect x="1972" y="73" width="32" height="109" fill="rgb(64,64,64)" filter="url(#bs)" opacity="0.9"/>
<rect x="1972" y="73" width="32" height="109" fill="url(#pg)" opacity="0.55"/>
<rect x="1976.8" y="73" width="17.6" height="109" fill="url(#pg2)" opacity="0.8"/>
<rect x="2080" y="73" width="37" height="109" fill="rgb(72,72,72)" filter="url(#bs)" opacity="0.9"/>
<rect x="2080" y="73" width="37" height="109" fill="url(#pg)" opacity="0.55"/>
<rect x="2085.6" y="73" width="20.4" height="109" fill="url(#pg2)" opacity="0.8"/>
<rect x="2178" y="70" width="108" height="116" fill="rgb(26,26,26)" filter="url(#bs)"/>
<rect x="2182" y="74" width="100" height="108" fill="url(#pw)"/>
<rect x="2188" y="69" width="98" height="2.2" fill="rgb(115,115,115)"/>
<rect x="1402" y="270" width="236" height="94" fill="rgb(38,38,38)" filter="url(#bs)"/>
<rect x="1406" y="274" width="228" height="86" fill="url(#pw)"/>
<rect x="1412" y="269" width="226" height="2.2" fill="rgb(115,115,115)"/>
<rect x="1402" y="272" width="36" height="92" fill="rgb(72,72,72)" filter="url(#bs)" opacity="0.9"/>
<rect x="1402" y="272" width="36" height="92" fill="url(#pg)" opacity="0.55"/>
<rect x="1407.4" y="272" width="19.8" height="92" fill="url(#pg2)" opacity="0.8"/>
<rect x="1578" y="272" width="52" height="92" fill="rgb(67,67,67)" filter="url(#bs)" opacity="0.9"/>
<rect x="1578" y="272" width="52" height="92" fill="url(#pg)" opacity="0.55"/>
<rect x="1585.8" y="272" width="28.6" height="92" fill="url(#pg2)" opacity="0.8"/>
<rect x="1645" y="277" width="142" height="73" fill="rgb(32,32,32)" filter="url(#bs)"/>
<rect x="1649" y="281" width="134" height="65" fill="url(#pw)"/>
<rect x="1655" y="276" width="132" height="2.2" fill="rgb(115,115,115)"/>
<rect x="1777" y="313" width="202" height="65" fill="rgb(36,36,36)" filter="url(#bs)"/>
<rect x="1781" y="317" width="194" height="57" fill="url(#pw)"/>
<rect x="1787" y="312" width="192" height="2.2" fill="rgb(115,115,115)"/>
<rect x="1777" y="315" width="35" height="63" fill="rgb(67,67,67)" filter="url(#bs)" opacity="0.9"/>
<rect x="1777" y="315" width="35" height="63" fill="url(#pg)" opacity="0.55"/>
<rect x="1782.2" y="315" width="19.2" height="63" fill="url(#pg2)" opacity="0.8"/>
<rect x="1979" y="260" width="138" height="77" fill="rgb(36,36,36)" filter="url(#bs)"/>
<rect x="1983" y="264" width="130" height="69" fill="url(#pw)"/>
<rect x="1989" y="259" width="128" height="2.2" fill="rgb(115,115,115)"/>
<rect x="1979" y="262" width="29" height="75" fill="rgb(67,67,67)" filter="url(#bs)" opacity="0.9"/>
<rect x="1979" y="262" width="29" height="75" fill="url(#pg)" opacity="0.55"/>
<rect x="1983.3" y="262" width="16.0" height="75" fill="url(#pg2)" opacity="0.8"/>
<rect x="2087" y="297" width="178" height="81" fill="rgb(31,31,31)" filter="url(#bs)"/>
<rect x="2091" y="301" width="170" height="73" fill="url(#pw)"/>
<rect x="2097" y="296" width="168" height="2.2" fill="rgb(115,115,115)"/>
<rect x="2087" y="299" width="31" height="79" fill="rgb(64,64,64)" filter="url(#bs)" opacity="0.9"/>
<rect x="2087" y="299" width="31" height="79" fill="url(#pg)" opacity="0.55"/>
<rect x="2091.7" y="299" width="17.1" height="79" fill="url(#pg2)" opacity="0.8"/>
<rect x="1402" y="408" width="236" height="84" fill="rgb(38,38,38)" filter="url(#bs)"/>
<rect x="1406" y="412" width="228" height="76" fill="url(#pw)"/>
<rect x="1412" y="407" width="226" height="2.2" fill="rgb(115,115,115)"/>
<rect x="1402" y="410" width="34" height="82" fill="rgb(72,72,72)" filter="url(#bs)" opacity="0.9"/>
<rect x="1402" y="410" width="34" height="82" fill="url(#pg)" opacity="0.55"/>
<rect x="1407.1" y="410" width="18.7" height="82" fill="url(#pg2)" opacity="0.8"/>
<rect x="1575" y="410" width="53" height="82" fill="rgb(67,67,67)" filter="url(#bs)" opacity="0.9"/>
<rect x="1575" y="410" width="53" height="82" fill="url(#pg)" opacity="0.55"/>
<rect x="1583.0" y="410" width="29.2" height="82" fill="url(#pg2)" opacity="0.8"/>
<rect x="1645" y="414" width="142" height="76" fill="rgb(32,32,32)" filter="url(#bs)"/>
<rect x="1649" y="418" width="134" height="68" fill="url(#pw)"/>
<rect x="1655" y="413" width="132" height="2.2" fill="rgb(115,115,115)"/>
<rect x="1777" y="405" width="202" height="80" fill="rgb(36,36,36)" filter="url(#bs)"/>
<rect x="1781" y="409" width="194" height="72" fill="url(#pw)"/>
<rect x="1787" y="404" width="192" height="2.2" fill="rgb(115,115,115)"/>
<rect x="1777" y="407" width="37" height="78" fill="rgb(72,72,72)" filter="url(#bs)" opacity="0.9"/>
<rect x="1777" y="407" width="37" height="78" fill="url(#pg)" opacity="0.55"/>
<rect x="1782.5" y="407" width="20.4" height="78" fill="url(#pg2)" opacity="0.8"/>
<rect x="2087" y="445" width="135" height="115" fill="rgb(33,33,33)" filter="url(#bs)"/>
<rect x="2091" y="449" width="127" height="107" fill="url(#pw)"/>
<rect x="2097" y="444" width="125" height="2.2" fill="rgb(115,115,115)"/>
<rect x="2087" y="447" width="31" height="113" fill="rgb(66,66,66)" filter="url(#bs)" opacity="0.9"/>
<rect x="2087" y="447" width="31" height="113" fill="url(#pg)" opacity="0.55"/>
<rect x="2091.7" y="447" width="17.1" height="113" fill="url(#pg2)" opacity="0.8"/>
<rect x="1976" y="475" width="111" height="75" fill="rgb(33,33,33)" filter="url(#bs)"/>
<rect x="1980" y="479" width="103" height="67" fill="url(#pw)"/>
<rect x="1986" y="474" width="101" height="2.2" fill="rgb(115,115,115)"/>
<rect x="1976" y="477" width="30" height="73" fill="rgb(66,66,66)" filter="url(#bs)" opacity="0.9"/>
<rect x="1976" y="477" width="30" height="73" fill="url(#pg)" opacity="0.55"/>
<rect x="1980.5" y="477" width="16.5" height="73" fill="url(#pg2)" opacity="0.8"/>
<rect x="1369" y="563" width="243" height="182" fill="rgb(41,41,41)" filter="url(#bs)"/>
<rect x="1373" y="567" width="235" height="174" fill="url(#pw)"/>
<rect x="1379" y="562" width="233" height="2.2" fill="rgb(115,115,115)"/>
<rect x="1369" y="565" width="35" height="180" fill="rgb(75,75,75)" filter="url(#bs)" opacity="0.9"/>
<rect x="1369" y="565" width="35" height="180" fill="url(#pg)" opacity="0.55"/>
<rect x="1374.2" y="565" width="19.2" height="180" fill="url(#pg2)" opacity="0.8"/>
<rect x="1545" y="565" width="59" height="180" fill="rgb(72,72,72)" filter="url(#bs)" opacity="0.9"/>
<rect x="1545" y="565" width="59" height="180" fill="url(#pg)" opacity="0.55"/>
<rect x="1553.8" y="565" width="32.5" height="180" fill="url(#pg2)" opacity="0.8"/>
<rect x="1618" y="570" width="155" height="166" fill="rgb(32,32,32)" filter="url(#bs)"/>
<rect x="1622" y="574" width="147" height="158" fill="url(#pw)"/>
<rect x="1628" y="569" width="145" height="2.2" fill="rgb(115,115,115)"/>
<rect x="1814" y="587" width="121" height="151" fill="rgb(36,36,36)" filter="url(#bs)"/>
<rect x="1818" y="591" width="113" height="143" fill="url(#pw)"/>
<rect x="1824" y="586" width="111" height="2.2" fill="rgb(115,115,115)"/>
<rect x="1814" y="589" width="32" height="149" fill="rgb(72,72,72)" filter="url(#bs)" opacity="0.9"/>
<rect x="1814" y="589" width="32" height="149" fill="url(#pg)" opacity="0.55"/>
<rect x="1818.8" y="589" width="17.6" height="149" fill="url(#pg2)" opacity="0.8"/>
<rect x="1959" y="627" width="246" height="111" fill="rgb(36,36,36)" filter="url(#bs)"/>
<rect x="1963" y="631" width="238" height="103" fill="url(#pw)"/>
<rect x="1969" y="626" width="236" height="2.2" fill="rgb(115,115,115)"/>
<rect x="1962" y="629" width="30" height="109" fill="rgb(67,67,67)" filter="url(#bs)" opacity="0.9"/>
<rect x="1962" y="629" width="30" height="109" fill="url(#pg)" opacity="0.55"/>
<rect x="1966.5" y="629" width="16.5" height="109" fill="url(#pg2)" opacity="0.8"/>
<rect x="2076" y="629" width="42" height="109" fill="rgb(72,72,72)" filter="url(#bs)" opacity="0.9"/>
<rect x="2076" y="629" width="42" height="109" fill="url(#pg)" opacity="0.55"/>
<rect x="2082.3" y="629" width="23.1" height="109" fill="url(#pg2)" opacity="0.8"/>
<rect x="1204" y="665" width="165" height="82" fill="rgb(31,31,31)" filter="url(#bs)"/>
<rect x="1208" y="669" width="157" height="74" fill="url(#pw)"/>
<rect x="1214" y="664" width="155" height="2.2" fill="rgb(115,115,115)"/>
<rect x="1603.5" y="82" width="30.0" height="138" fill="#fff" opacity="0.28" filter="url(#bs)"/>
<path d="M1614.0 78 C1612.5 129.1 1611.0 165.6 1614.8 224 L1624.3 224 C1623.0 165.6 1624.5 129.1 1622.4 78 Z" fill="#fff"/>
<rect x="1770.0" y="78" width="16.0" height="30" fill="#fff" opacity="0.28" filter="url(#bs)"/>
<path d="M1775.6 74 C1774.8 87.3 1774.0 96.8 1776.0 112 L1781.1 112 C1780.4 96.8 1781.2 87.3 1780.1 74 Z" fill="#fff"/>
<rect x="1788.0" y="78" width="16.0" height="30" fill="#fff" opacity="0.28" filter="url(#bs)"/>
<path d="M1793.6 74 C1792.8 87.3 1792.0 96.8 1794.0 112 L1799.1 112 C1798.4 96.8 1799.2 87.3 1798.1 74 Z" fill="#fff"/>
<rect x="1949.0" y="72" width="16.0" height="36" fill="#fff" opacity="0.28" filter="url(#bs)"/>
<path d="M1954.6 68 C1953.8 83.4 1953.0 94.4 1955.0 112 L1960.1 112 C1959.4 94.4 1960.2 83.4 1959.1 68 Z" fill="#fff"/>
<rect x="2090.5" y="74" width="14.0" height="40" fill="#fff" opacity="0.28" filter="url(#bs)"/>
<path d="M2095.4 70 C2094.7 86.8 2094.0 98.8 2095.8 118 L2100.2 118 C2099.6 98.8 2100.3 86.8 2099.3 70 Z" fill="#fff"/>
<rect x="1625.5" y="268" width="26.0" height="108" fill="#fff" opacity="0.28" filter="url(#bs)"/>
<path d="M1634.6 264 C1633.3 304.6 1632.0 333.6 1635.2 380 L1643.6 380 C1642.4 333.6 1643.7 304.6 1641.9 264 Z" fill="#fff"/>
<rect x="1801.5" y="274" width="14.0" height="32" fill="#fff" opacity="0.28" filter="url(#bs)"/>
<path d="M1806.4 270 C1805.7 284.0 1805.0 294.0 1806.8 310 L1811.2 310 C1810.6 294.0 1811.3 284.0 1810.3 270 Z" fill="#fff"/>
<rect x="2100.0" y="262" width="16.0" height="36" fill="#fff" opacity="0.28" filter="url(#bs)"/>
<path d="M2105.6 258 C2104.8 273.4 2104.0 284.4 2106.0 302 L2111.1 302 C2110.4 284.4 2111.2 273.4 2110.1 258 Z" fill="#fff"/>
<rect x="2083.5" y="294" width="18.0" height="34" fill="#fff" opacity="0.28" filter="url(#bs)"/>
<path d="M2089.8 290 C2088.9 304.7 2088.0 315.2 2090.2 332 L2096.0 332 C2095.2 315.2 2096.1 304.7 2094.8 290 Z" fill="#fff"/>
<rect x="1622.5" y="406" width="26.0" height="110" fill="#fff" opacity="0.28" filter="url(#bs)"/>
<path d="M1631.6 402 C1630.3 443.3 1629.0 472.8 1632.2 520 L1640.6 520 C1639.4 472.8 1640.7 443.3 1638.9 402 Z" fill="#fff"/>
<rect x="1780.5" y="349" width="22.0" height="97" fill="#fff" opacity="0.28" filter="url(#bs)"/>
<path d="M1788.2 345 C1787.1 381.8 1786.0 408.0 1788.8 450 L1795.8 450 C1794.8 408.0 1795.9 381.8 1794.4 345 Z" fill="#fff"/>
<rect x="1966.0" y="394" width="20.0" height="49" fill="#fff" opacity="0.28" filter="url(#bs)"/>
<path d="M1973.0 390 C1972.0 409.9 1971.0 424.2 1973.5 447 L1979.9 447 C1979.0 424.2 1980.0 409.9 1978.6 390 Z" fill="#fff"/>
<rect x="2203.5" y="450" width="18.0" height="34" fill="#fff" opacity="0.28" filter="url(#bs)"/>
<path d="M2209.8 446 C2208.9 460.7 2208.0 471.2 2210.2 488 L2216.0 488 C2215.2 471.2 2216.1 460.7 2214.8 446 Z" fill="#fff"/>
<rect x="2080.5" y="490" width="14.0" height="51" fill="#fff" opacity="0.28" filter="url(#bs)"/>
<path d="M2085.4 486 C2084.7 506.6 2084.0 521.4 2085.8 545 L2090.2 545 C2089.6 521.4 2090.3 506.6 2089.3 486 Z" fill="#fff"/>
<rect x="2094.0" y="524" width="16.0" height="38" fill="#fff" opacity="0.28" filter="url(#bs)"/>
<path d="M2099.6 520 C2098.8 536.1 2098.0 547.6 2100.0 566 L2105.1 566 C2104.4 547.6 2105.2 536.1 2104.1 520 Z" fill="#fff"/>
<rect x="1594.5" y="562" width="30.0" height="192" fill="#fff" opacity="0.28" filter="url(#bs)"/>
<path d="M1605.0 558 C1603.5 628.0 1602.0 678.0 1605.8 758 L1615.3 758 C1614.0 678.0 1615.5 628.0 1613.4 558 Z" fill="#fff"/>
<rect x="1776.0" y="570" width="16.0" height="28" fill="#fff" opacity="0.28" filter="url(#bs)"/>
<path d="M1781.6 566 C1780.8 578.6 1780.0 587.6 1782.0 602 L1787.1 602 C1786.4 587.6 1787.2 578.6 1786.1 566 Z" fill="#fff"/>
<rect x="1212" y="690" width="22" height="50" fill="rgb(8,8,8)" stroke="rgb(204,204,204)" stroke-width="2"/>
<rect x="1246" y="680" width="30" height="60" fill="rgb(8,8,8)" stroke="rgb(204,204,204)" stroke-width="2"/>
<rect x="1290" y="690" width="24" height="48" fill="rgb(8,8,8)" stroke="rgb(204,204,204)" stroke-width="2"/>
<rect x="1328" y="684" width="28" height="56" fill="rgb(8,8,8)" stroke="rgb(204,204,204)" stroke-width="2"/>
<rect x="1204" y="746" width="420" height="2.5" fill="rgb(191,191,191)"/>
<rect x="1560" y="222" width="50" height="1.8" fill="rgb(178,178,178)"/>
<rect x="1560" y="230" width="50" height="1.8" fill="rgb(178,178,178)"/>
<rect x="1560" y="238" width="50" height="1.8" fill="rgb(178,178,178)"/>
<rect x="1570" y="416" width="45" height="1.8" fill="rgb(178,178,178)"/>
<rect x="1570" y="424" width="45" height="1.8" fill="rgb(178,178,178)"/>
<rect x="1570" y="432" width="45" height="1.8" fill="rgb(178,178,178)"/>
<rect x="2232" y="222" width="42" height="1.8" fill="rgb(178,178,178)"/>
<rect x="2232" y="232" width="42" height="1.8" fill="rgb(178,178,178)"/>
<rect x="2232" y="244" width="42" height="1.8" fill="rgb(178,178,178)"/>
<rect x="2232" y="255" width="42" height="1.8" fill="rgb(178,178,178)"/>
<rect x="2230" y="552" width="22" height="1.8" fill="rgb(178,178,178)"/>
<rect x="2230" y="562" width="22" height="1.8" fill="rgb(178,178,178)"/>
<rect x="2230" y="572" width="22" height="1.8" fill="rgb(178,178,178)"/>
<rect x="1210" y="46" width="700" height="1.5" fill="rgb(102,102,102)" opacity="0.6"/>
<rect x="1500" y="22" width="56" height="20" fill="none" stroke="rgb(178,178,178)" stroke-width="2"/>
</g>
<text class="ov" x="1269" y="54.5" font-size="41.3">Range</text>
<text class="ov" transform="translate(1218,69) rotate(90)" font-size="41.3">Azimuth</text>
<path d="M1264 70.5H1385 M1266.5 68V190" stroke="#000" stroke-width="5" fill="none"/>
<path d="M1401.5 70.5l-19 -8v16z M1266.5 208l-8 -19h16z" fill="#000"/>
</svg>
<svg style="left:0;top:900px" width="1179" height="960" viewBox="0 900 1179 960">
<defs><linearGradient id="hg" gradientUnits="userSpaceOnUse" x1="130" y1="0" x2="1131" y2="0"><stop offset="0" stop-color="#fff"/><stop offset="0.40" stop-color="#fff"/><stop offset="0.50" stop-color="#fff" stop-opacity="0.45"/><stop offset="0.80" stop-color="#fff" stop-opacity="0.4"/><stop offset="0.88" stop-color="#fff" stop-opacity="0.95"/><stop offset="1" stop-color="#fff"/></linearGradient><linearGradient id="vg" x1="0" y1="0" x2="0" y2="1"><stop offset="0" stop-color="#fff" stop-opacity="0"/><stop offset="0.3" stop-color="#fff" stop-opacity="0.8"/><stop offset="0.5" stop-color="#fff"/><stop offset="0.7" stop-color="#fff" stop-opacity="0.8"/><stop offset="1" stop-color="#fff" stop-opacity="0"/></linearGradient><filter id="fc" filterUnits="userSpaceOnUse" x="130.4" y="948.2" width="1000.3" height="788.0" color-interpolation-filters="sRGB">
<feGaussianBlur in="SourceGraphic" stdDeviation="7 5" result="I"/>
<feTurbulence type="fractalNoise" baseFrequency="0.7 0.06" numOctaves="2" seed="3" result="N"/>
<feColorMatrix in="N" type="matrix" values="1 0 0 0 0  1 0 0 0 0  1 0 0 0 0  0 0 0 0 1" result="Ng"/>
<feComposite in="I" in2="Ng" operator="arithmetic" k1="0" k2="1" k3="0.300" k4="-0.150" result="S"/>
<feComponentTransfer in="S"><feFuncR type="table" tableValues="0.243 0.253 0.263 0.273 0.282 0.257 0.231 0.206 0.180 0.153 0.125 0.098 0.071 0.107 0.143 0.179 0.216 0.329 0.443 0.557 0.671 0.752 0.833 0.915 0.996 0.987 0.978 0.970 0.961 0.965 0.969 0.973 0.976"/><feFuncG type="table" tableValues="0.149 0.192 0.235 0.278 0.322 0.374 0.425 0.477 0.529 0.571 0.612 0.653 0.694 0.717 0.739 0.762 0.784 0.783 0.782 0.781 0.780 0.776 0.773 0.769 0.765 0.793 0.822 0.850 0.878 0.905 0.931 0.958 0.984"/><feFuncB type="table" tableValues="0.659 0.733 0.808 0.882 0.957 0.960 0.963 0.966 0.969 0.936 0.904 0.872 0.839 0.777 0.716 0.654 0.592 0.500 0.408 0.316 0.224 0.223 0.222 0.221 0.220 0.194 0.169 0.143 0.118 0.109 0.100 0.091 0.082"/><feFuncA type="linear" slope="0" intercept="1"/></feComponentTransfer>
</filter><clipPath id="cc"><rect x="130.4" y="948.2" width="1000.3" height="788.0"/></clipPath></defs>
<g filter="url(#fc)"><g clip-path="url(#cc)">
<rect x="110.4" y="928.2" width="1040.3" height="828.0" fill="rgb(116,116,116)"/>
<rect x="110.4" y="928.2" width="168.0" height="828.0" fill="rgb(96,96,96)"/>
<rect x="1011.4" y="928.2" width="139.3" height="828.0" fill="rgb(99,99,99)" opacity="0.8"/>
<polygon points="130.3,1060.0 1129.8,1081.7 1129.8,1114.7 130.3,1098.8" fill="url(#hg)" opacity="0.24"/>
<polygon points="130.3,1039.7 1129.8,1062.4 1129.8,1134.0 130.3,1119.2" fill="url(#hg)" opacity="0.13"/>
<polygon points="269.1,710.1 346.9,710.1 542.1,1086.2 464.3,1086.2" fill="#fff" opacity="0.11"/>
<polygon points="278.4,722.5 337.6,722.5 525.4,1086.2 481.0,1086.2" fill="#fff" opacity="0.17"/>
<rect x="278.4" y="717.5" width="59.2" height="22.2" rx="6" fill="#fff" opacity="0.14"/>
<polygon points="428.3,728.6 494.9,728.6 680.0,1086.2 613.4,1086.2" fill="#fff" opacity="0.11"/>
<polygon points="437.6,741.0 485.7,741.0 663.4,1086.2 630.1,1086.2" fill="#fff" opacity="0.17"/>
<rect x="437.6" y="736.0" width="48.1" height="22.2" rx="6" fill="#fff" opacity="0.14"/>
<polygon points="628.2,790.3 672.6,790.3 726.5,907.4 682.1,907.4" fill="#fff" opacity="0.09"/>
<polygon points="637.5,802.6 663.4,802.6 709.8,907.4 698.7,907.4" fill="#fff" opacity="0.14"/>
<rect x="637.5" y="797.7" width="25.9" height="22.2" rx="6" fill="#fff" opacity="0.11"/>
<polygon points="661.5,895.1 717.1,895.1 807.9,1080.0 752.4,1080.0" fill="#fff" opacity="0.10"/>
<polygon points="670.8,907.4 707.8,907.4 791.3,1080.0 769.1,1080.0" fill="#fff" opacity="0.16"/>
<rect x="670.8" y="902.5" width="37.0" height="22.2" rx="6" fill="#fff" opacity="0.13"/>
<polygon points="783.7,901.3 842.9,901.3 933.8,1086.2 874.6,1086.2" fill="#fff" opacity="0.11"/>
<polygon points="793.0,913.6 833.7,913.6 917.1,1086.2 891.2,1086.2" fill="#fff" opacity="0.17"/>
<rect x="793.0" y="908.7" width="40.7" height="22.2" rx="6" fill="#fff" opacity="0.14"/>
<polygon points="898.5,907.4 946.6,907.4 1040.8,1098.5 992.7,1098.5" fill="#fff" opacity="0.11"/>
<polygon points="907.7,919.8 937.3,919.8 1024.2,1098.5 1009.4,1098.5" fill="#fff" opacity="0.17"/>
<rect x="907.7" y="914.8" width="29.6" height="22.2" rx="6" fill="#fff" opacity="0.14"/>
<rect x="482.0" y="888.9" width="37.0" height="456.2" fill="url(#vg)" opacity="0.16"/>
<rect x="643.0" y="765.6" width="22.2" height="530.2" fill="url(#vg)" opacity="0.14"/>
<rect x="905.9" y="888.9" width="22.2" height="406.9" fill="url(#vg)" opacity="0.14"/>
<rect x="793.0" y="1012.2" width="22.2" height="234.3" fill="url(#vg)" opacity="0.13"/>
<rect x="1015.1" y="987.6" width="11.1" height="308.2" fill="url(#vg)" opacity="0.09"/>
<rect x="282.1" y="691.7" width="33.3" height="789.1" fill="url(#vg)" opacity="0.07"/>
<rect x="441.3" y="691.7" width="22.2" height="789.1" fill="url(#vg)" opacity="0.06"/>
<rect x="548.6" y="691.7" width="14.8" height="419.2" fill="url(#vg)" opacity="0.05"/>
<rect x="907.7" y="1234.2" width="22.2" height="246.6" fill="url(#vg)" opacity="0.08"/>
<rect x="485.7" y="1295.8" width="29.6" height="185.0" fill="url(#vg)" opacity="0.10"/>
<ellipse cx="496.8" cy="1080.0" rx="16.6" ry="22.5" fill="#fff" opacity="0.08"/>
<ellipse cx="500.5" cy="1184.8" rx="11.8" ry="16.0" fill="#fff" opacity="0.10"/>
<ellipse cx="500.5" cy="999.9" rx="11.8" ry="16.0" fill="#fff" opacity="0.08"/>
<ellipse cx="654.1" cy="1080.0" rx="12.9" ry="17.5" fill="#fff" opacity="0.06"/>
<ellipse cx="656.0" cy="1184.8" rx="9.2" ry="12.5" fill="#fff" opacity="0.08"/>
<ellipse cx="915.1" cy="1073.9" rx="10.4" ry="14.0" fill="#fff" opacity="0.08"/>
<ellipse cx="1015.1" cy="1086.2" rx="8.1" ry="11.0" fill="#fff" opacity="0.08"/>
<ellipse cx="1092.8" cy="1098.5" rx="11.1" ry="15.0" fill="#fff" opacity="0.06"/>
<polygon points="581.9,1265.0 611.6,1265.0 737.4,1456.1 707.8,1456.1" fill="#fff" opacity="0.08"/>
<polygon points="130.3,1849.1 1129.8,1870.8 1129.8,1903.9 130.3,1888.0" fill="url(#hg)" opacity="0.24"/>
<polygon points="130.3,1828.8 1129.8,1851.6 1129.8,1923.1 130.3,1908.3" fill="url(#hg)" opacity="0.13"/>
<polygon points="269.1,1499.3 346.9,1499.3 542.1,1875.3 464.3,1875.3" fill="#fff" opacity="0.11"/>
<polygon points="278.4,1511.6 337.6,1511.6 525.4,1875.3 481.0,1875.3" fill="#fff" opacity="0.17"/>
<rect x="278.4" y="1506.7" width="59.2" height="22.2" rx="6" fill="#fff" opacity="0.14"/>
<polygon points="428.3,1517.8 494.9,1517.8 680.0,1875.3 613.4,1875.3" fill="#fff" opacity="0.11"/>
<polygon points="437.6,1530.1 485.7,1530.1 663.4,1875.3 630.1,1875.3" fill="#fff" opacity="0.17"/>
<rect x="437.6" y="1525.2" width="48.1" height="22.2" rx="6" fill="#fff" opacity="0.14"/>
<polygon points="628.2,1579.4 672.6,1579.4 726.5,1696.5 682.1,1696.5" fill="#fff" opacity="0.09"/>
<polygon points="637.5,1591.7 663.4,1591.7 709.8,1696.5 698.7,1696.5" fill="#fff" opacity="0.14"/>
<rect x="637.5" y="1586.8" width="25.9" height="22.2" rx="6" fill="#fff" opacity="0.11"/>
<polygon points="661.5,1684.2 717.1,1684.2 807.9,1869.2 752.4,1869.2" fill="#fff" opacity="0.10"/>
<polygon points="670.8,1696.5 707.8,1696.5 791.3,1869.2 769.1,1869.2" fill="#fff" opacity="0.16"/>
<rect x="670.8" y="1691.6" width="37.0" height="22.2" rx="6" fill="#fff" opacity="0.13"/>
<polygon points="783.7,1690.4 842.9,1690.4 933.8,1875.3 874.6,1875.3" fill="#fff" opacity="0.11"/>
<polygon points="793.0,1702.7 833.7,1702.7 917.1,1875.3 891.2,1875.3" fill="#fff" opacity="0.17"/>
<rect x="793.0" y="1697.8" width="40.7" height="22.2" rx="6" fill="#fff" opacity="0.14"/>
<polygon points="898.5,1696.5 946.6,1696.5 1040.8,1887.7 992.7,1887.7" fill="#fff" opacity="0.11"/>
<polygon points="907.7,1708.9 937.3,1708.9 1024.2,1887.7 1009.4,1887.7" fill="#fff" opacity="0.17"/>
<rect x="907.7" y="1703.9" width="29.6" height="22.2" rx="6" fill="#fff" opacity="0.14"/>
<rect x="482.0" y="1678.0" width="37.0" height="456.2" fill="url(#vg)" opacity="0.16"/>
<rect x="643.0" y="1554.8" width="22.2" height="530.2" fill="url(#vg)" opacity="0.14"/>
<rect x="905.9" y="1678.0" width="22.2" height="406.9" fill="url(#vg)" opacity="0.14"/>
<rect x="793.0" y="1801.4" width="22.2" height="234.3" fill="url(#vg)" opacity="0.13"/>
<rect x="1015.1" y="1776.7" width="11.1" height="308.2" fill="url(#vg)" opacity="0.09"/>
<rect x="282.1" y="1480.8" width="33.3" height="789.1" fill="url(#vg)" opacity="0.07"/>
<rect x="441.3" y="1480.8" width="22.2" height="789.1" fill="url(#vg)" opacity="0.06"/>
<rect x="548.6" y="1480.8" width="14.8" height="419.2" fill="url(#vg)" opacity="0.05"/>
<rect x="907.7" y="2023.3" width="22.2" height="246.6" fill="url(#vg)" opacity="0.08"/>
<rect x="485.7" y="2084.9" width="29.6" height="185.0" fill="url(#vg)" opacity="0.10"/>
<ellipse cx="496.8" cy="1869.2" rx="16.6" ry="22.5" fill="#fff" opacity="0.08"/>
<ellipse cx="500.5" cy="1974.0" rx="11.8" ry="16.0" fill="#fff" opacity="0.10"/>
<ellipse cx="500.5" cy="1789.0" rx="11.8" ry="16.0" fill="#fff" opacity="0.08"/>
<ellipse cx="654.1" cy="1869.2" rx="12.9" ry="17.5" fill="#fff" opacity="0.06"/>
<ellipse cx="656.0" cy="1974.0" rx="9.2" ry="12.5" fill="#fff" opacity="0.08"/>
<ellipse cx="915.1" cy="1863.0" rx="10.4" ry="14.0" fill="#fff" opacity="0.08"/>
<ellipse cx="1015.1" cy="1875.3" rx="8.1" ry="11.0" fill="#fff" opacity="0.08"/>
<ellipse cx="1092.8" cy="1887.7" rx="11.1" ry="15.0" fill="#fff" opacity="0.06"/>
<polygon points="581.9,2054.1 611.6,2054.1 737.4,2245.2 707.8,2245.2" fill="#fff" opacity="0.08"/>
<polygon points="130.3,270.9 1129.8,292.6 1129.8,325.6 130.3,309.7" fill="url(#hg)" opacity="0.24"/>
<polygon points="130.3,250.5 1129.8,273.3 1129.8,344.9 130.3,330.1" fill="url(#hg)" opacity="0.13"/>
<polygon points="269.1,-79.0 346.9,-79.0 542.1,297.1 464.3,297.1" fill="#fff" opacity="0.11"/>
<polygon points="278.4,-66.6 337.6,-66.6 525.4,297.1 481.0,297.1" fill="#fff" opacity="0.17"/>
<rect x="278.4" y="-71.6" width="59.2" height="22.2" rx="6" fill="#fff" opacity="0.14"/>
<polygon points="428.3,-60.5 494.9,-60.5 680.0,297.1 613.4,297.1" fill="#fff" opacity="0.11"/>
<polygon points="437.6,-48.1 485.7,-48.1 663.4,297.1 630.1,297.1" fill="#fff" opacity="0.17"/>
<rect x="437.6" y="-53.1" width="48.1" height="22.2" rx="6" fill="#fff" opacity="0.14"/>
<polygon points="628.2,1.2 672.6,1.2 726.5,118.3 682.1,118.3" fill="#fff" opacity="0.09"/>
<polygon points="637.5,13.5 663.4,13.5 709.8,118.3 698.7,118.3" fill="#fff" opacity="0.14"/>
<rect x="637.5" y="8.6" width="25.9" height="22.2" rx="6" fill="#fff" opacity="0.11"/>
<polygon points="661.5,106.0 717.1,106.0 807.9,290.9 752.4,290.9" fill="#fff" opacity="0.10"/>
<polygon points="670.8,118.3 707.8,118.3 791.3,290.9 769.1,290.9" fill="#fff" opacity="0.16"/>
<rect x="670.8" y="113.4" width="37.0" height="22.2" rx="6" fill="#fff" opacity="0.13"/>
<polygon points="783.7,112.1 842.9,112.1 933.8,297.1 874.6,297.1" fill="#fff" opacity="0.11"/>
<polygon points="793.0,124.5 833.7,124.5 917.1,297.1 891.2,297.1" fill="#fff" opacity="0.17"/>
<rect x="793.0" y="119.5" width="40.7" height="22.2" rx="6" fill="#fff" opacity="0.14"/>
<polygon points="898.5,118.3 946.6,118.3 1040.8,309.4 992.7,309.4" fill="#fff" opacity="0.11"/>
<polygon points="907.7,130.6 937.3,130.6 1024.2,309.4 1009.4,309.4" fill="#fff" opacity="0.17"/>
<rect x="907.7" y="125.7" width="29.6" height="22.2" rx="6" fill="#fff" opacity="0.14"/>
<rect x="482.0" y="99.8" width="37.0" height="456.2" fill="url(#vg)" opacity="0.16"/>
<rect x="643.0" y="-23.5" width="22.2" height="530.2" fill="url(#vg)" opacity="0.14"/>
<rect x="905.9" y="99.8" width="22.2" height="406.9" fill="url(#vg)" opacity="0.14"/>
<rect x="793.0" y="223.1" width="22.2" height="234.3" fill="url(#vg)" opacity="0.13"/>
<rect x="1015.1" y="198.5" width="11.1" height="308.2" fill="url(#vg)" opacity="0.09"/>
<rect x="282.1" y="-97.5" width="33.3" height="789.1" fill="url(#vg)" opacity="0.07"/>
<rect x="441.3" y="-97.5" width="22.2" height="789.1" fill="url(#vg)" opacity="0.06"/>
<rect x="548.6" y="-97.5" width="14.8" height="419.2" fill="url(#vg)" opacity="0.05"/>
<rect x="907.7" y="445.0" width="22.2" height="246.6" fill="url(#vg)" opacity="0.08"/>
<rect x="485.7" y="506.7" width="29.6" height="185.0" fill="url(#vg)" opacity="0.10"/>
<ellipse cx="496.8" cy="290.9" rx="16.6" ry="22.5" fill="#fff" opacity="0.08"/>
<ellipse cx="500.5" cy="395.7" rx="11.8" ry="16.0" fill="#fff" opacity="0.10"/>
<ellipse cx="500.5" cy="210.8" rx="11.8" ry="16.0" fill="#fff" opacity="0.08"/>
<ellipse cx="654.1" cy="290.9" rx="12.9" ry="17.5" fill="#fff" opacity="0.06"/>
<ellipse cx="656.0" cy="395.7" rx="9.2" ry="12.5" fill="#fff" opacity="0.08"/>
<ellipse cx="915.1" cy="284.8" rx="10.4" ry="14.0" fill="#fff" opacity="0.08"/>
<ellipse cx="1015.1" cy="297.1" rx="8.1" ry="11.0" fill="#fff" opacity="0.08"/>
<ellipse cx="1092.8" cy="309.4" rx="11.1" ry="15.0" fill="#fff" opacity="0.06"/>
<polygon points="581.9,475.9 611.6,475.9 737.4,667.0 707.8,667.0" fill="#fff" opacity="0.08"/>
<polygon points="130.3,1368.3 1129.8,1390.0 1129.8,1423.0 130.3,1407.1" fill="url(#hg)" opacity="0.21"/>
<polygon points="130.3,1347.9 1129.8,1370.7 1129.8,1442.3 130.3,1427.4" fill="url(#hg)" opacity="0.11"/>
<polygon points="269.1,1018.4 346.9,1018.4 542.1,1394.5 464.3,1394.5" fill="#fff" opacity="0.10"/>
<polygon points="278.4,1030.7 337.6,1030.7 525.4,1394.5 481.0,1394.5" fill="#fff" opacity="0.15"/>
<rect x="278.4" y="1025.8" width="59.2" height="22.2" rx="6" fill="#fff" opacity="0.12"/>
<polygon points="428.3,1036.9 494.9,1036.9 680.0,1394.5 613.4,1394.5" fill="#fff" opacity="0.10"/>
<polygon points="437.6,1049.2 485.7,1049.2 663.4,1394.5 630.1,1394.5" fill="#fff" opacity="0.15"/>
<rect x="437.6" y="1044.3" width="48.1" height="22.2" rx="6" fill="#fff" opacity="0.12"/>
<polygon points="628.2,1098.5 672.6,1098.5 726.5,1215.7 682.1,1215.7" fill="#fff" opacity="0.08"/>
<polygon points="637.5,1110.9 663.4,1110.9 709.8,1215.7 698.7,1215.7" fill="#fff" opacity="0.12"/>
<rect x="637.5" y="1105.9" width="25.9" height="22.2" rx="6" fill="#fff" opacity="0.10"/>
<polygon points="661.5,1203.3 717.1,1203.3 807.9,1388.3 752.4,1388.3" fill="#fff" opacity="0.09"/>
<polygon points="670.8,1215.7 707.8,1215.7 791.3,1388.3 769.1,1388.3" fill="#fff" opacity="0.13"/>
<rect x="670.8" y="1210.7" width="37.0" height="22.2" rx="6" fill="#fff" opacity="0.11"/>
<polygon points="783.7,1209.5 842.9,1209.5 933.8,1394.5 874.6,1394.5" fill="#fff" opacity="0.09"/>
<polygon points="793.0,1221.8 833.7,1221.8 917.1,1394.5 891.2,1394.5" fill="#fff" opacity="0.14"/>
<rect x="793.0" y="1216.9" width="40.7" height="22.2" rx="6" fill="#fff" opacity="0.12"/>
<polygon points="898.5,1215.7 946.6,1215.7 1040.8,1406.8 992.7,1406.8" fill="#fff" opacity="0.09"/>
<polygon points="907.7,1228.0 937.3,1228.0 1024.2,1406.8 1009.4,1406.8" fill="#fff" opacity="0.14"/>
<rect x="907.7" y="1223.1" width="29.6" height="22.2" rx="6" fill="#fff" opacity="0.12"/>
<rect x="482.0" y="1197.2" width="37.0" height="456.2" fill="url(#vg)" opacity="0.14"/>
<rect x="643.0" y="1073.9" width="22.2" height="530.2" fill="url(#vg)" opacity="0.12"/>
<rect x="905.9" y="1197.2" width="22.2" height="406.9" fill="url(#vg)" opacity="0.12"/>
<rect x="793.0" y="1320.5" width="22.2" height="234.3" fill="url(#vg)" opacity="0.11"/>
<rect x="1015.1" y="1295.8" width="11.1" height="308.2" fill="url(#vg)" opacity="0.08"/>
<rect x="282.1" y="999.9" width="33.3" height="789.1" fill="url(#vg)" opacity="0.06"/>
<rect x="441.3" y="999.9" width="22.2" height="789.1" fill="url(#vg)" opacity="0.05"/>
<rect x="548.6" y="999.9" width="14.8" height="419.2" fill="url(#vg)" opacity="0.04"/>
<rect x="907.7" y="1542.4" width="22.2" height="246.6" fill="url(#vg)" opacity="0.07"/>
<rect x="485.7" y="1604.1" width="29.6" height="185.0" fill="url(#vg)" opacity="0.09"/>
<ellipse cx="496.8" cy="1388.3" rx="16.6" ry="22.5" fill="#fff" opacity="0.07"/>
<ellipse cx="500.5" cy="1493.1" rx="11.8" ry="16.0" fill="#fff" opacity="0.09"/>
<ellipse cx="500.5" cy="1308.2" rx="11.8" ry="16.0" fill="#fff" opacity="0.07"/>
<ellipse cx="654.1" cy="1388.3" rx="12.9" ry="17.5" fill="#fff" opacity="0.05"/>
<ellipse cx="656.0" cy="1493.1" rx="9.2" ry="12.5" fill="#fff" opacity="0.06"/>
<ellipse cx="915.1" cy="1382.1" rx="10.4" ry="14.0" fill="#fff" opacity="0.07"/>
<ellipse cx="1015.1" cy="1394.5" rx="8.1" ry="11.0" fill="#fff" opacity="0.07"/>
<ellipse cx="1092.8" cy="1406.8" rx="11.1" ry="15.0" fill="#fff" opacity="0.05"/>
<polygon points="581.9,1573.2 611.6,1573.2 737.4,1764.4 707.8,1764.4" fill="#fff" opacity="0.07"/>
<polygon points="130.3,2157.4 1129.8,2179.1 1129.8,2212.1 130.3,2196.2" fill="url(#hg)" opacity="0.21"/>
<polygon points="130.3,2137.0 1129.8,2159.8 1129.8,2231.4 130.3,2216.6" fill="url(#hg)" opacity="0.11"/>
<polygon points="269.1,1807.5 346.9,1807.5 542.1,2183.6 464.3,2183.6" fill="#fff" opacity="0.10"/>
<polygon points="278.4,1819.8 337.6,1819.8 525.4,2183.6 481.0,2183.6" fill="#fff" opacity="0.15"/>
<rect x="278.4" y="1814.9" width="59.2" height="22.2" rx="6" fill="#fff" opacity="0.12"/>
<polygon points="428.3,1826.0 494.9,1826.0 680.0,2183.6 613.4,2183.6" fill="#fff" opacity="0.10"/>
<polygon points="437.6,1838.3 485.7,1838.3 663.4,2183.6 630.1,2183.6" fill="#fff" opacity="0.15"/>
<rect x="437.6" y="1833.4" width="48.1" height="22.2" rx="6" fill="#fff" opacity="0.12"/>
<polygon points="628.2,1887.7 672.6,1887.7 726.5,2004.8 682.1,2004.8" fill="#fff" opacity="0.08"/>
<polygon points="637.5,1900.0 663.4,1900.0 709.8,2004.8 698.7,2004.8" fill="#fff" opacity="0.12"/>
<rect x="637.5" y="1895.1" width="25.9" height="22.2" rx="6" fill="#fff" opacity="0.10"/>
<polygon points="661.5,1992.5 717.1,1992.5 807.9,2177.4 752.4,2177.4" fill="#fff" opacity="0.09"/>
<polygon points="670.8,2004.8 707.8,2004.8 791.3,2177.4 769.1,2177.4" fill="#fff" opacity="0.13"/>
<rect x="670.8" y="1999.9" width="37.0" height="22.2" rx="6" fill="#fff" opacity="0.11"/>
<polygon points="783.7,1998.6 842.9,1998.6 933.8,2183.6 874.6,2183.6" fill="#fff" opacity="0.09"/>
<polygon points="793.0,2011.0 833.7,2011.0 917.1,2183.6 891.2,2183.6" fill="#fff" opacity="0.14"/>
<rect x="793.0" y="2006.0" width="40.7" height="22.2" rx="6" fill="#fff" opacity="0.12"/>
<polygon points="898.5,2004.8 946.6,2004.8 1040.8,2195.9 992.7,2195.9" fill="#fff" opacity="0.09"/>
<polygon points="907.7,2017.1 937.3,2017.1 1024.2,2195.9 1009.4,2195.9" fill="#fff" opacity="0.14"/>
<rect x="907.7" y="2012.2" width="29.6" height="22.2" rx="6" fill="#fff" opacity="0.12"/>
<rect x="482.0" y="1986.3" width="37.0" height="456.2" fill="url(#vg)" opacity="0.14"/>
<rect x="643.0" y="1863.0" width="22.2" height="530.2" fill="url(#vg)" opacity="0.12"/>
<rect x="905.9" y="1986.3" width="22.2" height="406.9" fill="url(#vg)" opacity="0.12"/>
<rect x="793.0" y="2109.6" width="22.2" height="234.3" fill="url(#vg)" opacity="0.11"/>
<rect x="1015.1" y="2084.9" width="11.1" height="308.2" fill="url(#vg)" opacity="0.08"/>
<rect x="282.1" y="1789.0" width="33.3" height="789.1" fill="url(#vg)" opacity="0.06"/>
<rect x="441.3" y="1789.0" width="22.2" height="789.1" fill="url(#vg)" opacity="0.05"/>
<rect x="548.6" y="1789.0" width="14.8" height="419.2" fill="url(#vg)" opacity="0.04"/>
<rect x="907.7" y="2331.5" width="22.2" height="246.6" fill="url(#vg)" opacity="0.07"/>
<rect x="485.7" y="2393.2" width="29.6" height="185.0" fill="url(#vg)" opacity="0.09"/>
<ellipse cx="496.8" cy="2177.4" rx="16.6" ry="22.5" fill="#fff" opacity="0.07"/>
<ellipse cx="500.5" cy="2282.2" rx="11.8" ry="16.0" fill="#fff" opacity="0.09"/>
<ellipse cx="500.5" cy="2097.3" rx="11.8" ry="16.0" fill="#fff" opacity="0.07"/>
<ellipse cx="654.1" cy="2177.4" rx="12.9" ry="17.5" fill="#fff" opacity="0.05"/>
<ellipse cx="656.0" cy="2282.2" rx="9.2" ry="12.5" fill="#fff" opacity="0.06"/>
<ellipse cx="915.1" cy="2171.2" rx="10.4" ry="14.0" fill="#fff" opacity="0.07"/>
<ellipse cx="1015.1" cy="2183.6" rx="8.1" ry="11.0" fill="#fff" opacity="0.07"/>
<ellipse cx="1092.8" cy="2195.9" rx="11.1" ry="15.0" fill="#fff" opacity="0.05"/>
<polygon points="581.9,2362.4 611.6,2362.4 737.4,2553.5 707.8,2553.5" fill="#fff" opacity="0.07"/>
<polygon points="130.3,579.1 1129.8,600.9 1129.8,633.9 130.3,618.0" fill="url(#hg)" opacity="0.21"/>
<polygon points="130.3,558.8 1129.8,581.6 1129.8,653.1 130.3,638.3" fill="url(#hg)" opacity="0.11"/>
<polygon points="269.1,229.3 346.9,229.3 542.1,605.3 464.3,605.3" fill="#fff" opacity="0.10"/>
<polygon points="278.4,241.6 337.6,241.6 525.4,605.3 481.0,605.3" fill="#fff" opacity="0.15"/>
<rect x="278.4" y="236.7" width="59.2" height="22.2" rx="6" fill="#fff" opacity="0.12"/>
<polygon points="428.3,247.8 494.9,247.8 680.0,605.3 613.4,605.3" fill="#fff" opacity="0.10"/>
<polygon points="437.6,260.1 485.7,260.1 663.4,605.3 630.1,605.3" fill="#fff" opacity="0.15"/>
<rect x="437.6" y="255.2" width="48.1" height="22.2" rx="6" fill="#fff" opacity="0.12"/>
<polygon points="628.2,309.4 672.6,309.4 726.5,426.6 682.1,426.6" fill="#fff" opacity="0.08"/>
<polygon points="637.5,321.8 663.4,321.8 709.8,426.6 698.7,426.6" fill="#fff" opacity="0.12"/>
<rect x="637.5" y="316.8" width="25.9" height="22.2" rx="6" fill="#fff" opacity="0.10"/>
<polygon points="661.5,414.2 717.1,414.2 807.9,599.2 752.4,599.2" fill="#fff" opacity="0.09"/>
<polygon points="670.8,426.6 707.8,426.6 791.3,599.2 769.1,599.2" fill="#fff" opacity="0.13"/>
<rect x="670.8" y="421.6" width="37.0" height="22.2" rx="6" fill="#fff" opacity="0.11"/>
<polygon points="783.7,420.4 842.9,420.4 933.8,605.3 874.6,605.3" fill="#fff" opacity="0.09"/>
<polygon points="793.0,432.7 833.7,432.7 917.1,605.3 891.2,605.3" fill="#fff" opacity="0.14"/>
<rect x="793.0" y="427.8" width="40.7" height="22.2" rx="6" fill="#fff" opacity="0.12"/>
<polygon points="898.5,426.6 946.6,426.6 1040.8,617.7 992.7,617.7" fill="#fff" opacity="0.09"/>
<polygon points="907.7,438.9 937.3,438.9 1024.2,617.7 1009.4,617.7" fill="#fff" opacity="0.14"/>
<rect x="907.7" y="434.0" width="29.6" height="22.2" rx="6" fill="#fff" opacity="0.12"/>
<rect x="482.0" y="408.1" width="37.0" height="456.2" fill="url(#vg)" opacity="0.14"/>
<rect x="643.0" y="284.8" width="22.2" height="530.2" fill="url(#vg)" opacity="0.12"/>
<rect x="905.9" y="408.1" width="22.2" height="406.9" fill="url(#vg)" opacity="0.12"/>
<rect x="793.0" y="531.4" width="22.2" height="234.3" fill="url(#vg)" opacity="0.11"/>
<rect x="1015.1" y="506.7" width="11.1" height="308.2" fill="url(#vg)" opacity="0.08"/>
<rect x="282.1" y="210.8" width="33.3" height="789.1" fill="url(#vg)" opacity="0.06"/>
<rect x="441.3" y="210.8" width="22.2" height="789.1" fill="url(#vg)" opacity="0.05"/>
<rect x="548.6" y="210.8" width="14.8" height="419.2" fill="url(#vg)" opacity="0.04"/>
<rect x="907.7" y="753.3" width="22.2" height="246.6" fill="url(#vg)" opacity="0.07"/>
<rect x="485.7" y="815.0" width="29.6" height="185.0" fill="url(#vg)" opacity="0.09"/>
<ellipse cx="496.8" cy="599.2" rx="16.6" ry="22.5" fill="#fff" opacity="0.07"/>
<ellipse cx="500.5" cy="704.0" rx="11.8" ry="16.0" fill="#fff" opacity="0.09"/>
<ellipse cx="500.5" cy="519.0" rx="11.8" ry="16.0" fill="#fff" opacity="0.07"/>
<ellipse cx="654.1" cy="599.2" rx="12.9" ry="17.5" fill="#fff" opacity="0.05"/>
<ellipse cx="656.0" cy="704.0" rx="9.2" ry="12.5" fill="#fff" opacity="0.06"/>
<ellipse cx="915.1" cy="593.0" rx="10.4" ry="14.0" fill="#fff" opacity="0.07"/>
<ellipse cx="1015.1" cy="605.3" rx="8.1" ry="11.0" fill="#fff" opacity="0.07"/>
<ellipse cx="1092.8" cy="617.7" rx="11.1" ry="15.0" fill="#fff" opacity="0.05"/>
<polygon points="581.9,784.1 611.6,784.1 737.4,975.2 707.8,975.2" fill="#fff" opacity="0.07"/>
<polygon points="130.3,1528.5 1129.8,1550.3 1129.8,1583.3 130.3,1567.4" fill="url(#hg)" opacity="0.23"/>
<polygon points="130.3,1508.2 1129.8,1531.0 1129.8,1602.6 130.3,1587.7" fill="url(#hg)" opacity="0.12"/>
<polygon points="269.1,1178.7 346.9,1178.7 542.1,1554.8 464.3,1554.8" fill="#fff" opacity="0.11"/>
<polygon points="278.4,1191.0 337.6,1191.0 525.4,1554.8 481.0,1554.8" fill="#fff" opacity="0.17"/>
<rect x="278.4" y="1186.1" width="59.2" height="22.2" rx="6" fill="#fff" opacity="0.14"/>
<polygon points="428.3,1197.2 494.9,1197.2 680.0,1554.8 613.4,1554.8" fill="#fff" opacity="0.11"/>
<polygon points="437.6,1209.5 485.7,1209.5 663.4,1554.8 630.1,1554.8" fill="#fff" opacity="0.17"/>
<rect x="437.6" y="1204.6" width="48.1" height="22.2" rx="6" fill="#fff" opacity="0.14"/>
<polygon points="628.2,1258.8 672.6,1258.8 726.5,1376.0 682.1,1376.0" fill="#fff" opacity="0.09"/>
<polygon points="637.5,1271.2 663.4,1271.2 709.8,1376.0 698.7,1376.0" fill="#fff" opacity="0.13"/>
<rect x="637.5" y="1266.2" width="25.9" height="22.2" rx="6" fill="#fff" opacity="0.11"/>
<polygon points="661.5,1363.6 717.1,1363.6 807.9,1548.6 752.4,1548.6" fill="#fff" opacity="0.10"/>
<polygon points="670.8,1376.0 707.8,1376.0 791.3,1548.6 769.1,1548.6" fill="#fff" opacity="0.15"/>
<rect x="670.8" y="1371.0" width="37.0" height="22.2" rx="6" fill="#fff" opacity="0.12"/>
<polygon points="783.7,1369.8 842.9,1369.8 933.8,1554.8 874.6,1554.8" fill="#fff" opacity="0.10"/>
<polygon points="793.0,1382.1 833.7,1382.1 917.1,1554.8 891.2,1554.8" fill="#fff" opacity="0.16"/>
<rect x="793.0" y="1377.2" width="40.7" height="22.2" rx="6" fill="#fff" opacity="0.13"/>
<polygon points="898.5,1376.0 946.6,1376.0 1040.8,1567.1 992.7,1567.1" fill="#fff" opacity="0.10"/>
<polygon points="907.7,1388.3 937.3,1388.3 1024.2,1567.1 1009.4,1567.1" fill="#fff" opacity="0.16"/>
<rect x="907.7" y="1383.4" width="29.6" height="22.2" rx="6" fill="#fff" opacity="0.13"/>
<rect x="482.0" y="1357.5" width="37.0" height="456.2" fill="url(#vg)" opacity="0.15"/>
<rect x="643.0" y="1234.2" width="22.2" height="530.2" fill="url(#vg)" opacity="0.14"/>
<rect x="905.9" y="1357.5" width="22.2" height="406.9" fill="url(#vg)" opacity="0.14"/>
<rect x="793.0" y="1480.8" width="22.2" height="234.3" fill="url(#vg)" opacity="0.12"/>
<rect x="1015.1" y="1456.1" width="11.1" height="308.2" fill="url(#vg)" opacity="0.09"/>
<rect x="282.1" y="1160.2" width="33.3" height="789.1" fill="url(#vg)" opacity="0.06"/>
<rect x="441.3" y="1160.2" width="22.2" height="789.1" fill="url(#vg)" opacity="0.06"/>
<rect x="548.6" y="1160.2" width="14.8" height="419.2" fill="url(#vg)" opacity="0.05"/>
<rect x="907.7" y="1702.7" width="22.2" height="246.6" fill="url(#vg)" opacity="0.08"/>
<rect x="485.7" y="1764.4" width="29.6" height="185.0" fill="url(#vg)" opacity="0.10"/>
<ellipse cx="496.8" cy="1548.6" rx="16.6" ry="22.5" fill="#fff" opacity="0.08"/>
<ellipse cx="500.5" cy="1653.4" rx="11.8" ry="16.0" fill="#fff" opacity="0.10"/>
<ellipse cx="500.5" cy="1468.4" rx="11.8" ry="16.0" fill="#fff" opacity="0.08"/>
<ellipse cx="654.1" cy="1548.6" rx="12.9" ry="17.5" fill="#fff" opacity="0.06"/>
<ellipse cx="656.0" cy="1653.4" rx="9.2" ry="12.5" fill="#fff" opacity="0.07"/>
<ellipse cx="915.1" cy="1542.4" rx="10.4" ry="14.0" fill="#fff" opacity="0.08"/>
<ellipse cx="1015.1" cy="1554.8" rx="8.1" ry="11.0" fill="#fff" opacity="0.08"/>
<ellipse cx="1092.8" cy="1567.1" rx="11.1" ry="15.0" fill="#fff" opacity="0.06"/>
<polygon points="581.9,1733.5 611.6,1733.5 737.4,1924.7 707.8,1924.7" fill="#fff" opacity="0.08"/>
<polygon points="130.3,2317.7 1129.8,2339.4 1129.8,2372.4 130.3,2356.5" fill="url(#hg)" opacity="0.23"/>
<polygon points="130.3,2297.3 1129.8,2320.1 1129.8,2391.7 130.3,2376.9" fill="url(#hg)" opacity="0.12"/>
<polygon points="269.1,1967.8 346.9,1967.8 542.1,2343.9 464.3,2343.9" fill="#fff" opacity="0.11"/>
<polygon points="278.4,1980.1 337.6,1980.1 525.4,2343.9 481.0,2343.9" fill="#fff" opacity="0.17"/>
<rect x="278.4" y="1975.2" width="59.2" height="22.2" rx="6" fill="#fff" opacity="0.14"/>
<polygon points="428.3,1986.3 494.9,1986.3 680.0,2343.9 613.4,2343.9" fill="#fff" opacity="0.11"/>
<polygon points="437.6,1998.6 485.7,1998.6 663.4,2343.9 630.1,2343.9" fill="#fff" opacity="0.17"/>
<rect x="437.6" y="1993.7" width="48.1" height="22.2" rx="6" fill="#fff" opacity="0.14"/>
<polygon points="628.2,2048.0 672.6,2048.0 726.5,2165.1 682.1,2165.1" fill="#fff" opacity="0.09"/>
<polygon points="637.5,2060.3 663.4,2060.3 709.8,2165.1 698.7,2165.1" fill="#fff" opacity="0.13"/>
<rect x="637.5" y="2055.3" width="25.9" height="22.2" rx="6" fill="#fff" opacity="0.11"/>
<polygon points="661.5,2152.8 717.1,2152.8 807.9,2337.7 752.4,2337.7" fill="#fff" opacity="0.10"/>
<polygon points="670.8,2165.1 707.8,2165.1 791.3,2337.7 769.1,2337.7" fill="#fff" opacity="0.15"/>
<rect x="670.8" y="2160.2" width="37.0" height="22.2" rx="6" fill="#fff" opacity="0.12"/>
<polygon points="783.7,2158.9 842.9,2158.9 933.8,2343.9 874.6,2343.9" fill="#fff" opacity="0.10"/>
<polygon points="793.0,2171.2 833.7,2171.2 917.1,2343.9 891.2,2343.9" fill="#fff" opacity="0.16"/>
<rect x="793.0" y="2166.3" width="40.7" height="22.2" rx="6" fill="#fff" opacity="0.13"/>
<polygon points="898.5,2165.1 946.6,2165.1 1040.8,2356.2 992.7,2356.2" fill="#fff" opacity="0.10"/>
<polygon points="907.7,2177.4 937.3,2177.4 1024.2,2356.2 1009.4,2356.2" fill="#fff" opacity="0.16"/>
<rect x="907.7" y="2172.5" width="29.6" height="22.2" rx="6" fill="#fff" opacity="0.13"/>
<rect x="482.0" y="2146.6" width="37.0" height="456.2" fill="url(#vg)" opacity="0.15"/>
<rect x="643.0" y="2023.3" width="22.2" height="530.2" fill="url(#vg)" opacity="0.14"/>
<rect x="905.9" y="2146.6" width="22.2" height="406.9" fill="url(#vg)" opacity="0.14"/>
<rect x="793.0" y="2269.9" width="22.2" height="234.3" fill="url(#vg)" opacity="0.12"/>
<rect x="1015.1" y="2245.2" width="11.1" height="308.2" fill="url(#vg)" opacity="0.09"/>
<rect x="282.1" y="1949.3" width="33.3" height="789.1" fill="url(#vg)" opacity="0.06"/>
<rect x="441.3" y="1949.3" width="22.2" height="789.1" fill="url(#vg)" opacity="0.06"/>
<rect x="548.6" y="1949.3" width="14.8" height="419.2" fill="url(#vg)" opacity="0.05"/>
<rect x="907.7" y="2491.8" width="22.2" height="246.6" fill="url(#vg)" opacity="0.08"/>
<rect x="485.7" y="2553.5" width="29.6" height="185.0" fill="url(#vg)" opacity="0.10"/>
<ellipse cx="496.8" cy="2337.7" rx="16.6" ry="22.5" fill="#fff" opacity="0.08"/>
<ellipse cx="500.5" cy="2442.5" rx="11.8" ry="16.0" fill="#fff" opacity="0.10"/>
<ellipse cx="500.5" cy="2257.6" rx="11.8" ry="16.0" fill="#fff" opacity="0.08"/>
<ellipse cx="654.1" cy="2337.7" rx="12.9" ry="17.5" fill="#fff" opacity="0.06"/>
<ellipse cx="656.0" cy="2442.5" rx="9.2" ry="12.5" fill="#fff" opacity="0.07"/>
<ellipse cx="915.1" cy="2331.5" rx="10.4" ry="14.0" fill="#fff" opacity="0.08"/>
<ellipse cx="1015.1" cy="2343.9" rx="8.1" ry="11.0" fill="#fff" opacity="0.08"/>
<ellipse cx="1092.8" cy="2356.2" rx="11.1" ry="15.0" fill="#fff" opacity="0.06"/>
<polygon points="581.9,2522.7 611.6,2522.7 737.4,2713.8 707.8,2713.8" fill="#fff" opacity="0.08"/>
<polygon points="130.3,739.4 1129.8,761.1 1129.8,794.2 130.3,778.3" fill="url(#hg)" opacity="0.23"/>
<polygon points="130.3,719.1 1129.8,741.9 1129.8,813.4 130.3,798.6" fill="url(#hg)" opacity="0.12"/>
<polygon points="269.1,389.6 346.9,389.6 542.1,765.6 464.3,765.6" fill="#fff" opacity="0.11"/>
<polygon points="278.4,401.9 337.6,401.9 525.4,765.6 481.0,765.6" fill="#fff" opacity="0.17"/>
<rect x="278.4" y="397.0" width="59.2" height="22.2" rx="6" fill="#fff" opacity="0.14"/>
<polygon points="428.3,408.1 494.9,408.1 680.0,765.6 613.4,765.6" fill="#fff" opacity="0.11"/>
<polygon points="437.6,420.4 485.7,420.4 663.4,765.6 630.1,765.6" fill="#fff" opacity="0.17"/>
<rect x="437.6" y="415.5" width="48.1" height="22.2" rx="6" fill="#fff" opacity="0.14"/>
<polygon points="628.2,469.7 672.6,469.7 726.5,586.8 682.1,586.8" fill="#fff" opacity="0.09"/>
<polygon points="637.5,482.0 663.4,482.0 709.8,586.8 698.7,586.8" fill="#fff" opacity="0.13"/>
<rect x="637.5" y="477.1" width="25.9" height="22.2" rx="6" fill="#fff" opacity="0.11"/>
<polygon points="661.5,574.5 717.1,574.5 807.9,759.5 752.4,759.5" fill="#fff" opacity="0.10"/>
<polygon points="670.8,586.8 707.8,586.8 791.3,759.5 769.1,759.5" fill="#fff" opacity="0.15"/>
<rect x="670.8" y="581.9" width="37.0" height="22.2" rx="6" fill="#fff" opacity="0.12"/>
<polygon points="783.7,580.7 842.9,580.7 933.8,765.6 874.6,765.6" fill="#fff" opacity="0.10"/>
<polygon points="793.0,593.0 833.7,593.0 917.1,765.6 891.2,765.6" fill="#fff" opacity="0.16"/>
<rect x="793.0" y="588.1" width="40.7" height="22.2" rx="6" fill="#fff" opacity="0.13"/>
<polygon points="898.5,586.8 946.6,586.8 1040.8,778.0 992.7,778.0" fill="#fff" opacity="0.10"/>
<polygon points="907.7,599.2 937.3,599.2 1024.2,778.0 1009.4,778.0" fill="#fff" opacity="0.16"/>
<rect x="907.7" y="594.2" width="29.6" height="22.2" rx="6" fill="#fff" opacity="0.13"/>
<rect x="482.0" y="568.4" width="37.0" height="456.2" fill="url(#vg)" opacity="0.15"/>
<rect x="643.0" y="445.0" width="22.2" height="530.2" fill="url(#vg)" opacity="0.14"/>
<rect x="905.9" y="568.4" width="22.2" height="406.9" fill="url(#vg)" opacity="0.14"/>
<rect x="793.0" y="691.7" width="22.2" height="234.3" fill="url(#vg)" opacity="0.12"/>
<rect x="1015.1" y="667.0" width="11.1" height="308.2" fill="url(#vg)" opacity="0.09"/>
<rect x="282.1" y="371.1" width="33.3" height="789.1" fill="url(#vg)" opacity="0.06"/>
<rect x="441.3" y="371.1" width="22.2" height="789.1" fill="url(#vg)" opacity="0.06"/>
<rect x="548.6" y="371.1" width="14.8" height="419.2" fill="url(#vg)" opacity="0.05"/>
<rect x="907.7" y="913.6" width="22.2" height="246.6" fill="url(#vg)" opacity="0.08"/>
<rect x="485.7" y="975.2" width="29.6" height="185.0" fill="url(#vg)" opacity="0.10"/>
<ellipse cx="496.8" cy="759.5" rx="16.6" ry="22.5" fill="#fff" opacity="0.08"/>
<ellipse cx="500.5" cy="864.3" rx="11.8" ry="16.0" fill="#fff" opacity="0.10"/>
<ellipse cx="500.5" cy="679.3" rx="11.8" ry="16.0" fill="#fff" opacity="0.08"/>
<ellipse cx="654.1" cy="759.5" rx="12.9" ry="17.5" fill="#fff" opacity="0.06"/>
<ellipse cx="656.0" cy="864.3" rx="9.2" ry="12.5" fill="#fff" opacity="0.07"/>
<ellipse cx="915.1" cy="753.3" rx="10.4" ry="14.0" fill="#fff" opacity="0.08"/>
<ellipse cx="1015.1" cy="765.6" rx="8.1" ry="11.0" fill="#fff" opacity="0.08"/>
<ellipse cx="1092.8" cy="778.0" rx="11.1" ry="15.0" fill="#fff" opacity="0.06"/>
<polygon points="581.9,944.4 611.6,944.4 737.4,1135.5 707.8,1135.5" fill="#fff" opacity="0.08"/>
<rect x="643.0" y="950.6" width="7.4" height="789.1" fill="#fff" opacity="0.20"/>
<rect x="657.8" y="950.6" width="7.4" height="789.1" fill="#fff" opacity="0.18"/>
<rect x="802.2" y="950.6" width="13.0" height="450.0" fill="#fff" opacity="0.16"/>
<rect x="796.7" y="950.6" width="22.2" height="789.1" fill="#fff" opacity="0.08"/>
<rect x="907.7" y="950.6" width="7.4" height="789.1" fill="#fff" opacity="0.20"/>
<rect x="922.5" y="950.6" width="7.4" height="789.1" fill="#fff" opacity="0.16"/>
<rect x="1018.8" y="950.6" width="7.4" height="665.8" fill="#fff" opacity="0.14"/>
<rect x="482.0" y="950.6" width="9.3" height="480.9" fill="#fff" opacity="0.22"/>
<rect x="507.9" y="950.6" width="9.3" height="480.9" fill="#fff" opacity="0.20"/>
<rect x="482.0" y="950.6" width="35.2" height="789.1" fill="#fff" opacity="0.10"/>
</g></g>
<rect x="130.4" y="948.2" width="1000.3" height="788.0" fill="none" stroke="#333" stroke-width="1.6"/>
<path d="M315.4 1736.2v-10 M315.4 948.2v10" stroke="#262626" stroke-width="1.4" fill="none"/>
<text class="tk" x="315.4" y="1774.7" font-size="29.6" letter-spacing="1.1" text-anchor="middle">500</text>
<path d="M500.5 1736.2v-10 M500.5 948.2v10" stroke="#262626" stroke-width="1.4" fill="none"/>
<text class="tk" x="500.5" y="1774.7" font-size="29.6" letter-spacing="1.1" text-anchor="middle">1000</text>
<path d="M685.6 1736.2v-10 M685.6 948.2v10" stroke="#262626" stroke-width="1.4" fill="none"/>
<text class="tk" x="685.6" y="1774.7" font-size="29.6" letter-spacing="1.1" text-anchor="middle">1500</text>
<path d="M870.7 1736.2v-10 M870.7 948.2v10" stroke="#262626" stroke-width="1.4" fill="none"/>
<text class="tk" x="870.7" y="1774.7" font-size="29.6" letter-spacing="1.1" text-anchor="middle">2000</text>
<path d="M1055.8 1736.2v-10 M1055.8 948.2v10" stroke="#262626" stroke-width="1.4" fill="none"/>
<text class="tk" x="1055.8" y="1774.7" font-size="29.6" letter-spacing="1.1" text-anchor="middle">2500</text>
<path d="M130.4 1616.4h10 M1130.7 1616.4h-10" stroke="#262626" stroke-width="1.4" fill="none"/>
<text class="tk" x="120.4" y="1625.0" font-size="29.6" letter-spacing="1.1" text-anchor="end">20</text>
<path d="M130.4 1493.1h10 M1130.7 1493.1h-10" stroke="#262626" stroke-width="1.4" fill="none"/>
<text class="tk" x="120.4" y="1501.7" font-size="29.6" letter-spacing="1.1" text-anchor="end">40</text>
<path d="M130.4 1369.8h10 M1130.7 1369.8h-10" stroke="#262626" stroke-width="1.4" fill="none"/>
<text class="tk" x="120.4" y="1378.4" font-size="29.6" letter-spacing="1.1" text-anchor="end">60</text>
<path d="M130.4 1246.5h10 M1130.7 1246.5h-10" stroke="#262626" stroke-width="1.4" fill="none"/>
<text class="tk" x="120.4" y="1255.1" font-size="29.6" letter-spacing="1.1" text-anchor="end">80</text>
<path d="M130.4 1123.2h10 M1130.7 1123.2h-10" stroke="#262626" stroke-width="1.4" fill="none"/>
<text class="tk" x="120.4" y="1131.8" font-size="29.6" letter-spacing="1.1" text-anchor="end">100</text>
<path d="M130.4 999.9h10 M1130.7 999.9h-10" stroke="#262626" stroke-width="1.4" fill="none"/>
<text class="tk" x="120.4" y="1008.5" font-size="29.6" letter-spacing="1.1" text-anchor="end">120</text>
<text class="lb" x="630.9" y="1823.2" font-size="34.3" text-anchor="middle">Range</text>
<text class="lb" transform="translate(54.0,1342.2) rotate(-90)" font-size="34.3" text-anchor="middle">Elevation</text>
</svg>
<svg style="left:1179px;top:900px" width="1179" height="960" viewBox="1179 900 1179 960">
<defs><filter id="fd" filterUnits="userSpaceOnUse" x="1318.5" y="967.3" width="978.7" height="771.3" color-interpolation-filters="sRGB">
<feGaussianBlur in="SourceGraphic" stdDeviation="4 3" result="I"/>
<feTurbulence type="fractalNoise" baseFrequency="0.7 0.06" numOctaves="2" seed="11" result="N"/>
<feColorMatrix in="N" type="matrix" values="1 0 0 0 0  1 0 0 0 0  1 0 0 0 0  0 0 0 0 1" result="Ng"/>
<feComposite in="I" in2="Ng" operator="arithmetic" k1="0" k2="1" k3="0.220" k4="-0.110" result="S"/>
<feComponentTransfer in="S"><feFuncR type="table" tableValues="0.243 0.253 0.263 0.273 0.282 0.257 0.231 0.206 0.180 0.153 0.125 0.098 0.071 0.107 0.143 0.179 0.216 0.329 0.443 0.557 0.671 0.752 0.833 0.915 0.996 0.987 0.978 0.970 0.961 0.965 0.969 0.973 0.976"/><feFuncG type="table" tableValues="0.149 0.192 0.235 0.278 0.322 0.374 0.425 0.477 0.529 0.571 0.612 0.653 0.694 0.717 0.739 0.762 0.784 0.783 0.782 0.781 0.780 0.776 0.773 0.769 0.765 0.793 0.822 0.850 0.878 0.905 0.931 0.958 0.984"/><feFuncB type="table" tableValues="0.659 0.733 0.808 0.882 0.957 0.960 0.963 0.966 0.969 0.936 0.904 0.872 0.839 0.777 0.716 0.654 0.592 0.500 0.408 0.316 0.224 0.223 0.222 0.221 0.220 0.194 0.169 0.143 0.118 0.109 0.100 0.091 0.082"/><feFuncA type="linear" slope="0" intercept="1"/></feComponentTransfer>
</filter><clipPath id="cd"><rect x="1318.5" y="967.3" width="978.7" height="771.3"/></clipPath></defs>
<g filter="url(#fd)"><g clip-path="url(#cd)">
<rect x="1298.5" y="947.3" width="1018.7" height="811.3" fill="rgb(107,107,107)"/>
<rect x="1298.5" y="947.3" width="164.1" height="811.3" fill="rgb(94,94,94)"/>
<rect x="1462.6" y="1379.6" width="181.2" height="361.2" fill="rgb(102,102,102)"/>
<polygon points="1317.6,1336.3 2296.1,1356.5 2296.1,1378.0 1317.6,1361.5" fill="#fff" opacity="0.36"/>
<polygon points="1317.6,1323.0 2296.1,1344.0 2296.1,1390.6 1317.6,1374.8" fill="#fff" opacity="0.19"/>
<polygon points="1453.5,988.3 1529.6,988.3 1720.7,1355.5 1644.6,1355.5" fill="#fff" opacity="0.17"/>
<polygon points="1462.6,1000.3 1520.5,1000.3 1704.4,1355.5 1660.9,1355.5" fill="#fff" opacity="0.26"/>
<rect x="1462.6" y="995.5" width="58.0" height="21.7" rx="6" fill="#fff" opacity="0.34"/>
<polygon points="1609.3,1006.4 1674.6,1006.4 1855.8,1355.5 1790.5,1355.5" fill="#fff" opacity="0.17"/>
<polygon points="1618.4,1018.4 1665.5,1018.4 1839.5,1355.5 1806.8,1355.5" fill="#fff" opacity="0.26"/>
<rect x="1618.4" y="1013.6" width="47.1" height="21.7" rx="6" fill="#fff" opacity="0.34"/>
<polygon points="1805.0,1066.6 1848.5,1066.6 1901.2,1180.9 1857.7,1180.9" fill="#fff" opacity="0.14"/>
<polygon points="1814.1,1078.6 1839.5,1078.6 1884.9,1180.9 1874.0,1180.9" fill="#fff" opacity="0.21"/>
<rect x="1814.1" y="1073.8" width="25.4" height="21.7" rx="6" fill="#fff" opacity="0.27"/>
<polygon points="1837.6,1168.9 1892.0,1168.9 1981.0,1349.5 1926.6,1349.5" fill="#fff" opacity="0.15"/>
<polygon points="1846.7,1180.9 1882.9,1180.9 1964.6,1349.5 1942.9,1349.5" fill="#fff" opacity="0.23"/>
<rect x="1846.7" y="1176.1" width="36.2" height="21.7" rx="6" fill="#fff" opacity="0.31"/>
<polygon points="1957.2,1174.9 2015.2,1174.9 2104.2,1355.5 2046.2,1355.5" fill="#fff" opacity="0.16"/>
<polygon points="1966.3,1187.0 2006.2,1187.0 2087.9,1355.5 2062.5,1355.5" fill="#fff" opacity="0.25"/>
<rect x="1966.3" y="1182.1" width="39.9" height="21.7" rx="6" fill="#fff" opacity="0.32"/>
<polygon points="2069.6,1180.9 2116.7,1180.9 2208.9,1367.6 2161.8,1367.6" fill="#fff" opacity="0.16"/>
<polygon points="2078.6,1193.0 2107.6,1193.0 2192.6,1367.6 2178.1,1367.6" fill="#fff" opacity="0.25"/>
<rect x="2078.6" y="1188.2" width="29.0" height="21.7" rx="6" fill="#fff" opacity="0.32"/>
<rect x="1661.9" y="1162.9" width="36.2" height="445.5" fill="url(#vg)" opacity="0.38"/>
<rect x="1819.5" y="1042.5" width="21.7" height="517.7" fill="url(#vg)" opacity="0.34"/>
<rect x="2076.8" y="1162.9" width="21.7" height="397.3" fill="url(#vg)" opacity="0.34"/>
<rect x="1966.3" y="1283.3" width="21.7" height="228.8" fill="url(#vg)" opacity="0.30"/>
<rect x="2183.7" y="1259.2" width="10.9" height="301.0" fill="url(#vg)" opacity="0.22"/>
<rect x="1466.2" y="970.2" width="32.6" height="770.6" fill="url(#vg)" opacity="0.16"/>
<rect x="1622.0" y="970.2" width="21.7" height="770.6" fill="url(#vg)" opacity="0.14"/>
<rect x="1727.1" y="970.2" width="14.5" height="409.4" fill="url(#vg)" opacity="0.12"/>
<rect x="2078.6" y="1500.0" width="21.7" height="240.8" fill="url(#vg)" opacity="0.20"/>
<rect x="1665.5" y="1560.2" width="29.0" height="180.6" fill="url(#vg)" opacity="0.25"/>
<ellipse cx="1676.4" cy="1349.5" rx="16.6" ry="22.5" fill="#fff" opacity="0.20"/>
<ellipse cx="1680.0" cy="1451.8" rx="11.8" ry="16.0" fill="#fff" opacity="0.25"/>
<ellipse cx="1680.0" cy="1271.2" rx="11.8" ry="16.0" fill="#fff" opacity="0.20"/>
<ellipse cx="1830.4" cy="1349.5" rx="12.9" ry="17.5" fill="#fff" opacity="0.15"/>
<ellipse cx="1832.2" cy="1451.8" rx="9.2" ry="12.5" fill="#fff" opacity="0.18"/>
<ellipse cx="2085.9" cy="1343.5" rx="10.4" ry="14.0" fill="#fff" opacity="0.20"/>
<ellipse cx="2183.7" cy="1355.5" rx="8.1" ry="11.0" fill="#fff" opacity="0.20"/>
<ellipse cx="2259.8" cy="1367.6" rx="11.1" ry="15.0" fill="#fff" opacity="0.15"/>
<polygon points="1759.7,1530.1 1788.7,1530.1 1911.9,1716.7 1882.9,1716.7" fill="#fff" opacity="0.20"/>
</g></g>
<rect x="1318.5" y="967.3" width="978.7" height="771.3" fill="none" stroke="#333" stroke-width="1.6"/>
<path d="M1498.8 1738.6v-10 M1498.8 967.3v10" stroke="#262626" stroke-width="1.4" fill="none"/>
<text class="tk" x="1498.8" y="1777.1" font-size="29.6" letter-spacing="1.1" text-anchor="middle">500</text>
<path d="M1680.0 1738.6v-10 M1680.0 967.3v10" stroke="#262626" stroke-width="1.4" fill="none"/>
<text class="tk" x="1680.0" y="1777.1" font-size="29.6" letter-spacing="1.1" text-anchor="middle">1000</text>
<path d="M1861.2 1738.6v-10 M1861.2 967.3v10" stroke="#262626" stroke-width="1.4" fill="none"/>
<text class="tk" x="1861.2" y="1777.1" font-size="29.6" letter-spacing="1.1" text-anchor="middle">1500</text>
<path d="M2042.4 1738.6v-10 M2042.4 967.3v10" stroke="#262626" stroke-width="1.4" fill="none"/>
<text class="tk" x="2042.4" y="1777.1" font-size="29.6" letter-spacing="1.1" text-anchor="middle">2000</text>
<path d="M2223.6 1738.6v-10 M2223.6 967.3v10" stroke="#262626" stroke-width="1.4" fill="none"/>
<text class="tk" x="2223.6" y="1777.1" font-size="29.6" letter-spacing="1.1" text-anchor="middle">2500</text>
<path d="M1318.5 1620.4h10 M2297.2 1620.4h-10" stroke="#262626" stroke-width="1.4" fill="none"/>
<text class="tk" x="1308.5" y="1629.0" font-size="29.6" letter-spacing="1.1" text-anchor="end">20</text>
<path d="M1318.5 1500.0h10 M2297.2 1500.0h-10" stroke="#262626" stroke-width="1.4" fill="none"/>
<text class="tk" x="1308.5" y="1508.6" font-size="29.6" letter-spacing="1.1" text-anchor="end">40</text>
<path d="M1318.5 1379.6h10 M2297.2 1379.6h-10" stroke="#262626" stroke-width="1.4" fill="none"/>
<text class="tk" x="1308.5" y="1388.2" font-size="29.6" letter-spacing="1.1" text-anchor="end">60</text>
<path d="M1318.5 1259.2h10 M2297.2 1259.2h-10" stroke="#262626" stroke-width="1.4" fill="none"/>
<text class="tk" x="1308.5" y="1267.8" font-size="29.6" letter-spacing="1.1" text-anchor="end">80</text>
<path d="M1318.5 1138.8h10 M2297.2 1138.8h-10" stroke="#262626" stroke-width="1.4" fill="none"/>
<text class="tk" x="1308.5" y="1147.4" font-size="29.6" letter-spacing="1.1" text-anchor="end">100</text>
<path d="M1318.5 1018.4h10 M2297.2 1018.4h-10" stroke="#262626" stroke-width="1.4" fill="none"/>
<text class="tk" x="1308.5" y="1027.0" font-size="29.6" letter-spacing="1.1" text-anchor="end">120</text>
<text class="lb" x="1807.8" y="1823.2" font-size="34.3" text-anchor="middle">Range</text>
<text class="lb" transform="translate(1242.0,1352.9) rotate(-90)" font-size="34.3" text-anchor="middle">Elevation</text>
</svg>
<svg style="left:0;top:2000px" width="2358" height="835" viewBox="0 2000 2358 835">
<defs><filter id="ms" filterUnits="userSpaceOnUse" x="0" y="2000" width="2358" height="835" color-interpolation-filters="sRGB"><feGaussianBlur in="SourceGraphic" stdDeviation="12" result="I"/><feColorMatrix in="I" type="matrix" values="0 0 0 1 0  0 0 0 1 0  0 0 0 1 0  0 0 0 0 1" result="Ia"/><feComponentTransfer in="I" result="Is"><feFuncA type="linear" slope="60" intercept="0"/></feComponentTransfer><feTurbulence type="fractalNoise" baseFrequency="0.9" numOctaves="1" seed="3"/><feColorMatrix type="matrix" values="1 0 0 0 0  1 0 0 0 0  1 0 0 0 0  0 0 0 0 1" result="N"/><feTurbulence type="fractalNoise" baseFrequency="0.035 0.02" numOctaves="2" seed="12"/><feColorMatrix type="matrix" values="1 0 0 0 0  1 0 0 0 0  1 0 0 0 0  0 0 0 0 1" result="N2"/><feComposite in="N" in2="N2" operator="arithmetic" k1="0" k2="1" k3="0.60" k4="-0.30" result="N3"/><feComposite in="N3" in2="Ia" operator="arithmetic" k1="0" k2="1" k3="0.40" k4="-0.40" result="T"/><feColorMatrix in="T" type="matrix" values="0 0 0 0 0  0 0 0 0 0  0 0 0 0 0  9.00 0 0 0 -4.59" result="M"/><feComposite in="Is" in2="M" operator="in"/></filter><filter id="mm" filterUnits="userSpaceOnUse" x="0" y="2000" width="2358" height="835" color-interpolation-filters="sRGB"><feGaussianBlur in="SourceGraphic" stdDeviation="9" result="I"/><feColorMatrix in="I" type="matrix" values="0 0 0 1 0  0 0 0 1 0  0 0 0 1 0  0 0 0 0 1" result="Ia"/><feComponentTransfer in="I" result="Is"><feFuncA type="linear" slope="60" intercept="0"/></feComponentTransfer><feTurbulence type="fractalNoise" baseFrequency="0.9" numOctaves="1" seed="4"/><feColorMatrix type="matrix" values="1 0 0 0 0  1 0 0 0 0  1 0 0 0 0  0 0 0 0 1" result="N"/><feTurbulence type="fractalNoise" baseFrequency="0.035 0.02" numOctaves="2" seed="13"/><feColorMatrix type="matrix" values="1 0 0 0 0  1 0 0 0 0  1 0 0 0 0  0 0 0 0 1" result="N2"/><feComposite in="N" in2="N2" operator="arithmetic" k1="0" k2="1" k3="0.60" k4="-0.30" result="N3"/><feComposite in="N3" in2="Ia" operator="arithmetic" k1="0" k2="1" k3="0.40" k4="-0.40" result="T"/><feColorMatrix in="T" type="matrix" values="0 0 0 0 0  0 0 0 0 0  0 0 0 0 0  9.00 0 0 0 -3.33" result="M"/><feComposite in="Is" in2="M" operator="in"/></filter><filter id="md" filterUnits="userSpaceOnUse" x="0" y="2000" width="2358" height="835" color-interpolation-filters="sRGB"><feGaussianBlur in="SourceGraphic" stdDeviation="7" result="I"/><feColorMatrix in="I" type="matrix" values="0 0 0 1 0  0 0 0 1 0  0 0 0 1 0  0 0 0 0 1" result="Ia"/><feComponentTransfer in="I" result="Is"><feFuncA type="linear" slope="60" intercept="0"/></feComponentTransfer><feTurbulence type="fractalNoise" baseFrequency="0.9" numOctaves="1" seed="5"/><feColorMatrix type="matrix" values="1 0 0 0 0  1 0 0 0 0  1 0 0 0 0  0 0 0 0 1" result="N"/><feTurbulence type="fractalNoise" baseFrequency="0.035 0.02" numOctaves="2" seed="14"/><feColorMatrix type="matrix" values="1 0 0 0 0  1 0 0 0 0  1 0 0 0 0  0 0 0 0 1" result="N2"/><feComposite in="N" in2="N2" operator="arithmetic" k1="0" k2="1" k3="0.40" k4="-0.20" result="N3"/><feComposite in="N3" in2="Ia" operator="arithmetic" k1="0" k2="1" k3="0.40" k4="-0.40" result="T"/><feColorMatrix in="T" type="matrix" values="0 0 0 0 0  0 0 0 0 0  0 0 0 0 0  9.00 0 0 0 -2.43" result="M"/><feComposite in="Is" in2="M" operator="in"/></filter><filter id="mg" filterUnits="userSpaceOnUse" x="0" y="2000" width="2358" height="835" color-interpolation-filters="sRGB"><feGaussianBlur in="SourceGraphic" stdDeviation="0.8" result="I"/><feColorMatrix in="I" type="matrix" values="0 0 0 1 0  0 0 0 1 0  0 0 0 1 0  0 0 0 0 1" result="Ia"/><feComponentTransfer in="I" result="Is"><feFuncA type="linear" slope="60" intercept="0"/></feComponentTransfer><feTurbulence type="fractalNoise" baseFrequency="0.9" numOctaves="1" seed="6"/><feColorMatrix type="matrix" values="1 0 0 0 0  1 0 0 0 0  1 0 0 0 0  0 0 0 0 1" result="N"/><feTurbulence type="fractalNoise" baseFrequency="0.11 0.05" numOctaves="2" seed="15"/><feColorMatrix type="matrix" values="1 0 0 0 0  1 0 0 0 0  1 0 0 0 0  0 0 0 0 1" result="N2"/><feComposite in="N" in2="N2" operator="arithmetic" k1="0" k2="1" k3="0.70" k4="-0.35" result="N3"/><feComposite in="N3" in2="Ia" operator="arithmetic" k1="0" k2="1" k3="0.10" k4="-0.10" result="T"/><feColorMatrix in="T" type="matrix" values="0 0 0 0 0  0 0 0 0 0  0 0 0 0 0  9.00 0 0 0 -4.09" result="M"/><feComposite in="Is" in2="M" operator="in"/></filter><filter id="mg2" filterUnits="userSpaceOnUse" x="0" y="2000" width="2358" height="835" color-interpolation-filters="sRGB"><feGaussianBlur in="SourceGraphic" stdDeviation="1.5" result="I"/><feColorMatrix in="I" type="matrix" values="0 0 0 1 0  0 0 0 1 0  0 0 0 1 0  0 0 0 0 1" result="Ia"/><feComponentTransfer in="I" result="Is"><feFuncA type="linear" slope="60" intercept="0"/></feComponentTransfer><feTurbulence type="fractalNoise" baseFrequency="0.9" numOctaves="1" seed="16"/><feColorMatrix type="matrix" values="1 0 0 0 0  1 0 0 0 0  1 0 0 0 0  0 0 0 0 1" result="N"/><feTurbulence type="fractalNoise" baseFrequency="0.05 0.04" numOctaves="2" seed="25"/><feColorMatrix type="matrix" values="1 0 0 0 0  1 0 0 0 0  1 0 0 0 0  0 0 0 0 1" result="N2"/><feComposite in="N" in2="N2" operator="arithmetic" k1="0" k2="1" k3="0.60" k4="-0.30" result="N3"/><feComposite in="N3" in2="Ia" operator="arithmetic" k1="0" k2="1" k3="0.10" k4="-0.10" result="T"/><feColorMatrix in="T" type="matrix" values="0 0 0 0 0  0 0 0 0 0  0 0 0 0 0  9.00 0 0 0 -3.69" result="M"/><feComposite in="Is" in2="M" operator="in"/></filter><filter id="mm2" filterUnits="userSpaceOnUse" x="0" y="2000" width="2358" height="835" color-interpolation-filters="sRGB"><feGaussianBlur in="SourceGraphic" stdDeviation="3" result="I"/><feColorMatrix in="I" type="matrix" values="0 0 0 1 0  0 0 0 1 0  0 0 0 1 0  0 0 0 0 1" result="Ia"/><feComponentTransfer in="I" result="Is"><feFuncA type="linear" slope="60" intercept="0"/></feComponentTransfer><feTurbulence type="fractalNoise" baseFrequency="0.9" numOctaves="1" seed="7"/><feColorMatrix type="matrix" values="1 0 0 0 0  1 0 0 0 0  1 0 0 0 0  0 0 0 0 1" result="N"/><feTurbulence type="fractalNoise" baseFrequency="0.035 0.02" numOctaves="2" seed="16"/><feColorMatrix type="matrix" values="1 0 0 0 0  1 0 0 0 0  1 0 0 0 0  0 0 0 0 1" result="N2"/><feComposite in="N" in2="N2" operator="arithmetic" k1="0" k2="1" k3="0.50" k4="-0.25" result="N3"/><feComposite in="N3" in2="Ia" operator="arithmetic" k1="0" k2="1" k3="0.40" k4="-0.40" result="T"/><feColorMatrix in="T" type="matrix" values="0 0 0 0 0  0 0 0 0 0  0 0 0 0 0  9.00 0 0 0 -3.60" result="M"/><feComposite in="Is" in2="M" operator="in"/></filter><filter id="mc" filterUnits="userSpaceOnUse" x="0" y="2000" width="2358" height="835" color-interpolation-filters="sRGB"><feGaussianBlur in="SourceGraphic" stdDeviation="1.2" result="I"/><feColorMatrix in="I" type="matrix" values="0 0 0 1 0  0 0 0 1 0  0 0 0 1 0  0 0 0 0 1" result="Ia"/><feComponentTransfer in="I" result="Is"><feFuncA type="linear" slope="60" intercept="0"/></feComponentTransfer><feTurbulence type="fractalNoise" baseFrequency="0.9" numOctaves="1" seed="8"/><feColorMatrix type="matrix" values="1 0 0 0 0  1 0 0 0 0  1 0 0 0 0  0 0 0 0 1" result="N"/><feComposite in="N" in2="Ia" operator="arithmetic" k1="0" k2="1" k3="0.40" k4="-0.40" result="T"/><feColorMatrix in="T" type="matrix" values="0 0 0 0 0  0 0 0 0 0  0 0 0 0 0  9.00 0 0 0 -2.25" result="M"/><feComposite in="Is" in2="M" operator="in"/></filter><filter id="mx" filterUnits="userSpaceOnUse" x="0" y="2000" width="2358" height="835" color-interpolation-filters="sRGB"><feGaussianBlur in="SourceGraphic" stdDeviation="8" result="I"/><feColorMatrix in="I" type="matrix" values="0 0 0 1 0  0 0 0 1 0  0 0 0 1 0  0 0 0 0 1" result="Ia"/><feComponentTransfer in="I" result="Is"><feFuncA type="linear" slope="60" intercept="0"/></feComponentTransfer><feTurbulence type="fractalNoise" baseFrequency="0.9" numOctaves="1" seed="10"/><feColorMatrix type="matrix" values="1 0 0 0 0  1 0 0 0 0  1 0 0 0 0  0 0 0 0 1" result="N"/><feComposite in="N" in2="Ia" operator="arithmetic" k1="0" k2="1" k3="0.40" k4="-0.40" result="T"/><feColorMatrix in="T" type="matrix" values="0 0 0 0 0  0 0 0 0 0  0 0 0 0 0  9.00 0 0 0 -5.94" result="M"/><feComposite in="Is" in2="M" operator="in"/></filter></defs>
<g transform="translate(0.0,0)">
<path d="M166.5 2412.5L767.1 2305.7" stroke="#e2e2e2" stroke-width="1.0" fill="none"/>
<path d="M166.5 2351.6L767.1 2244.8" stroke="#e2e2e2" stroke-width="1.0" fill="none"/>
<path d="M166.5 2290.6L767.1 2183.8" stroke="#e2e2e2" stroke-width="1.0" fill="none"/>
<path d="M166.5 2229.6L767.1 2122.8" stroke="#e2e2e2" stroke-width="1.0" fill="none"/>
<path d="M166.5 2168.7L767.1 2061.9" stroke="#e2e2e2" stroke-width="1.0" fill="none"/>
<path d="M501.1 2353.0L501.1 2109.2" stroke="#e2e2e2" stroke-width="1.0" fill="none"/>
<path d="M767.1 2305.7L767.1 2061.9" stroke="#e2e2e2" stroke-width="1.0" fill="none"/>
<path d="M767.1 2305.7L1044.7 2534.7" stroke="#e2e2e2" stroke-width="1.0" fill="none"/>
<path d="M767.1 2244.8L1044.7 2473.8" stroke="#e2e2e2" stroke-width="1.0" fill="none"/>
<path d="M767.1 2183.8L1044.7 2412.8" stroke="#e2e2e2" stroke-width="1.0" fill="none"/>
<path d="M767.1 2122.8L1044.7 2351.8" stroke="#e2e2e2" stroke-width="1.0" fill="none"/>
<path d="M767.1 2061.9L1044.7 2290.9" stroke="#e2e2e2" stroke-width="1.0" fill="none"/>
<path d="M767.1 2305.7L767.1 2061.9" stroke="#e2e2e2" stroke-width="1.0" fill="none"/>
<path d="M801.8 2334.3L801.8 2090.5" stroke="#e2e2e2" stroke-width="1.0" fill="none"/>
<path d="M836.5 2362.9L836.5 2119.1" stroke="#e2e2e2" stroke-width="1.0" fill="none"/>
<path d="M871.2 2391.6L871.2 2147.8" stroke="#e2e2e2" stroke-width="1.0" fill="none"/>
<path d="M905.9 2420.2L905.9 2176.4" stroke="#e2e2e2" stroke-width="1.0" fill="none"/>
<path d="M940.6 2448.8L940.6 2205.0" stroke="#e2e2e2" stroke-width="1.0" fill="none"/>
<path d="M975.3 2477.4L975.3 2233.6" stroke="#e2e2e2" stroke-width="1.0" fill="none"/>
<path d="M1010.0 2506.1L1010.0 2262.3" stroke="#e2e2e2" stroke-width="1.0" fill="none"/>
<path d="M1044.7 2534.7L1044.7 2290.9" stroke="#e2e2e2" stroke-width="1.0" fill="none"/>
<path d="M166.5 2412.5L767.1 2305.7" stroke="#e2e2e2" stroke-width="1.0" fill="none"/>
<path d="M201.2 2441.1L801.8 2334.3" stroke="#e2e2e2" stroke-width="1.0" fill="none"/>
<path d="M235.9 2469.8L836.5 2362.9" stroke="#e2e2e2" stroke-width="1.0" fill="none"/>
<path d="M270.6 2498.4L871.2 2391.6" stroke="#e2e2e2" stroke-width="1.0" fill="none"/>
<path d="M305.3 2527.0L905.9 2420.2" stroke="#e2e2e2" stroke-width="1.0" fill="none"/>
<path d="M340.0 2555.6L940.6 2448.8" stroke="#e2e2e2" stroke-width="1.0" fill="none"/>
<path d="M374.7 2584.2L975.3 2477.4" stroke="#e2e2e2" stroke-width="1.0" fill="none"/>
<path d="M409.4 2612.9L1010.0 2506.1" stroke="#e2e2e2" stroke-width="1.0" fill="none"/>
<path d="M444.1 2641.5L1044.7 2534.7" stroke="#e2e2e2" stroke-width="1.0" fill="none"/>
<path d="M501.1 2353.0L778.7 2582.0" stroke="#e2e2e2" stroke-width="1.0" fill="none"/>
<path d="M166.5 2412.5L166.5 2168.7" stroke="#454545" stroke-width="1.1" fill="none"/>
<path d="M166.5 2412.5L444.1 2641.5" stroke="#454545" stroke-width="1.1" fill="none"/>
<path d="M444.1 2641.5L1044.7 2534.7" stroke="#454545" stroke-width="1.1" fill="none"/>
<path d="M166.5 2412.5L153.9 2403.9" stroke="#454545" stroke-width="1.0" fill="none"/>
<text class="tk" x="149.2" y="2404.5" font-size="18.4" letter-spacing="0.5" text-anchor="end">-100</text>
<path d="M166.5 2351.6L153.9 2343.0" stroke="#454545" stroke-width="1.0" fill="none"/>
<text class="tk" x="149.2" y="2343.6" font-size="18.4" letter-spacing="0.5" text-anchor="end">-50</text>
<path d="M166.5 2290.6L153.9 2282.0" stroke="#454545" stroke-width="1.0" fill="none"/>
<text class="tk" x="149.2" y="2282.6" font-size="18.4" letter-spacing="0.5" text-anchor="end">0</text>
<path d="M166.5 2229.6L153.9 2221.0" stroke="#454545" stroke-width="1.0" fill="none"/>
<text class="tk" x="149.2" y="2221.6" font-size="18.4" letter-spacing="0.5" text-anchor="end">50</text>
<path d="M166.5 2168.7L153.9 2160.1" stroke="#454545" stroke-width="1.0" fill="none"/>
<text class="tk" x="149.2" y="2160.7" font-size="18.4" letter-spacing="0.5" text-anchor="end">100</text>
<path d="M166.5 2412.5L151.0 2415.5" stroke="#454545" stroke-width="1.0" fill="none"/>
<text class="tk" x="143.3" y="2433.8" font-size="18.4" letter-spacing="0.5" text-anchor="end">4.5655</text>
<path d="M201.2 2441.1L185.7 2444.1" stroke="#454545" stroke-width="1.0" fill="none"/>
<text class="tk" x="178.0" y="2462.4" font-size="18.4" letter-spacing="0.5" text-anchor="end">4.566</text>
<path d="M235.9 2469.8L220.4 2472.8" stroke="#454545" stroke-width="1.0" fill="none"/>
<text class="tk" x="212.7" y="2491.1" font-size="18.4" letter-spacing="0.5" text-anchor="end">4.5665</text>
<path d="M270.6 2498.4L255.1 2501.4" stroke="#454545" stroke-width="1.0" fill="none"/>
<text class="tk" x="247.4" y="2519.7" font-size="18.4" letter-spacing="0.5" text-anchor="end">4.567</text>
<path d="M305.3 2527.0L289.8 2530.0" stroke="#454545" stroke-width="1.0" fill="none"/>
<text class="tk" x="282.1" y="2548.3" font-size="18.4" letter-spacing="0.5" text-anchor="end">4.5675</text>
<path d="M340.0 2555.6L324.5 2558.6" stroke="#454545" stroke-width="1.0" fill="none"/>
<text class="tk" x="316.8" y="2576.9" font-size="18.4" letter-spacing="0.5" text-anchor="end">4.568</text>
<path d="M374.7 2584.2L359.2 2587.2" stroke="#454545" stroke-width="1.0" fill="none"/>
<text class="tk" x="351.5" y="2605.6" font-size="18.4" letter-spacing="0.5" text-anchor="end">4.5685</text>
<path d="M409.4 2612.9L393.9 2615.9" stroke="#454545" stroke-width="1.0" fill="none"/>
<text class="tk" x="386.2" y="2634.2" font-size="18.4" letter-spacing="0.5" text-anchor="end">4.569</text>
<path d="M444.1 2641.5L428.6 2644.5" stroke="#454545" stroke-width="1.0" fill="none"/>
<text class="tk" x="420.9" y="2662.8" font-size="18.4" letter-spacing="0.5" text-anchor="end">4.5695</text>
<path d="M444.1 2641.5L455.6 2651.0" stroke="#454545" stroke-width="1.0" fill="none"/>
<text class="tk" x="464.1" y="2671.8" font-size="18.4" letter-spacing="0.5">3.9315</text>
<path d="M778.7 2582.0L790.2 2591.5" stroke="#454545" stroke-width="1.0" fill="none"/>
<text class="tk" x="798.7" y="2612.3" font-size="18.4" letter-spacing="0.5">3.932</text>
<text class="tk" x="105.5" y="2525.5" font-size="18.4" letter-spacing="0.5"><tspan font-size="23">×</tspan>10<tspan dy="-7" font-size="12.5">5</tspan></text>
<text class="lb" x="247.5" y="2644.5" font-size="21.7" text-anchor="middle">Azimuth</text>
<text class="lb" x="720.4" y="2674.5" font-size="21.7" text-anchor="middle">Ground</text>
<text class="lb" transform="translate(98.5,2290) rotate(-90)" font-size="21.7" text-anchor="middle">Height</text>
</g>
<g transform="translate(1183.7,0)">
<path d="M166.5 2412.5L767.1 2305.7" stroke="#e2e2e2" stroke-width="1.0" fill="none"/>
<path d="M166.5 2351.6L767.1 2244.8" stroke="#e2e2e2" stroke-width="1.0" fill="none"/>
<path d="M166.5 2290.6L767.1 2183.8" stroke="#e2e2e2" stroke-width="1.0" fill="none"/>
<path d="M166.5 2229.6L767.1 2122.8" stroke="#e2e2e2" stroke-width="1.0" fill="none"/>
<path d="M166.5 2168.7L767.1 2061.9" stroke="#e2e2e2" stroke-width="1.0" fill="none"/>
<path d="M233.8 2400.5L233.8 2156.7" stroke="#e2e2e2" stroke-width="1.0" fill="none"/>
<path d="M300.6 2388.7L300.6 2144.9" stroke="#e2e2e2" stroke-width="1.0" fill="none"/>
<path d="M367.4 2376.8L367.4 2133.0" stroke="#e2e2e2" stroke-width="1.0" fill="none"/>
<path d="M434.3 2364.9L434.3 2121.1" stroke="#e2e2e2" stroke-width="1.0" fill="none"/>
<path d="M501.1 2353.0L501.1 2109.2" stroke="#e2e2e2" stroke-width="1.0" fill="none"/>
<path d="M567.9 2341.1L567.9 2097.3" stroke="#e2e2e2" stroke-width="1.0" fill="none"/>
<path d="M634.7 2329.2L634.7 2085.4" stroke="#e2e2e2" stroke-width="1.0" fill="none"/>
<path d="M701.6 2317.4L701.6 2073.6" stroke="#e2e2e2" stroke-width="1.0" fill="none"/>
<path d="M767.1 2305.7L767.1 2061.9" stroke="#e2e2e2" stroke-width="1.0" fill="none"/>
<path d="M767.1 2305.7L1044.7 2534.7" stroke="#e2e2e2" stroke-width="1.0" fill="none"/>
<path d="M767.1 2244.8L1044.7 2473.8" stroke="#e2e2e2" stroke-width="1.0" fill="none"/>
<path d="M767.1 2183.8L1044.7 2412.8" stroke="#e2e2e2" stroke-width="1.0" fill="none"/>
<path d="M767.1 2122.8L1044.7 2351.8" stroke="#e2e2e2" stroke-width="1.0" fill="none"/>
<path d="M767.1 2061.9L1044.7 2290.9" stroke="#e2e2e2" stroke-width="1.0" fill="none"/>
<path d="M767.1 2305.7L767.1 2061.9" stroke="#e2e2e2" stroke-width="1.0" fill="none"/>
<path d="M801.8 2334.3L801.8 2090.5" stroke="#e2e2e2" stroke-width="1.0" fill="none"/>
<path d="M836.5 2362.9L836.5 2119.1" stroke="#e2e2e2" stroke-width="1.0" fill="none"/>
<path d="M871.2 2391.6L871.2 2147.8" stroke="#e2e2e2" stroke-width="1.0" fill="none"/>
<path d="M905.9 2420.2L905.9 2176.4" stroke="#e2e2e2" stroke-width="1.0" fill="none"/>
<path d="M940.6 2448.8L940.6 2205.0" stroke="#e2e2e2" stroke-width="1.0" fill="none"/>
<path d="M975.3 2477.4L975.3 2233.6" stroke="#e2e2e2" stroke-width="1.0" fill="none"/>
<path d="M1010.0 2506.1L1010.0 2262.3" stroke="#e2e2e2" stroke-width="1.0" fill="none"/>
<path d="M1044.7 2534.7L1044.7 2290.9" stroke="#e2e2e2" stroke-width="1.0" fill="none"/>
<path d="M166.5 2412.5L767.1 2305.7" stroke="#e2e2e2" stroke-width="1.0" fill="none"/>
<path d="M201.2 2441.1L801.8 2334.3" stroke="#e2e2e2" stroke-width="1.0" fill="none"/>
<path d="M235.9 2469.8L836.5 2362.9" stroke="#e2e2e2" stroke-width="1.0" fill="none"/>
<path d="M270.6 2498.4L871.2 2391.6" stroke="#e2e2e2" stroke-width="1.0" fill="none"/>
<path d="M305.3 2527.0L905.9 2420.2" stroke="#e2e2e2" stroke-width="1.0" fill="none"/>
<path d="M340.0 2555.6L940.6 2448.8" stroke="#e2e2e2" stroke-width="1.0" fill="none"/>
<path d="M374.7 2584.2L975.3 2477.4" stroke="#e2e2e2" stroke-width="1.0" fill="none"/>
<path d="M409.4 2612.9L1010.0 2506.1" stroke="#e2e2e2" stroke-width="1.0" fill="none"/>
<path d="M444.1 2641.5L1044.7 2534.7" stroke="#e2e2e2" stroke-width="1.0" fill="none"/>
<path d="M233.8 2400.5L511.4 2629.5" stroke="#e2e2e2" stroke-width="1.0" fill="none"/>
<path d="M300.6 2388.7L578.2 2617.7" stroke="#e2e2e2" stroke-width="1.0" fill="none"/>
<path d="M367.4 2376.8L645.0 2605.8" stroke="#e2e2e2" stroke-width="1.0" fill="none"/>
<path d="M434.3 2364.9L711.9 2593.9" stroke="#e2e2e2" stroke-width="1.0" fill="none"/>
<path d="M501.1 2353.0L778.7 2582.0" stroke="#e2e2e2" stroke-width="1.0" fill="none"/>
<path d="M567.9 2341.1L845.5 2570.1" stroke="#e2e2e2" stroke-width="1.0" fill="none"/>
<path d="M634.7 2329.2L912.3 2558.2" stroke="#e2e2e2" stroke-width="1.0" fill="none"/>
<path d="M701.6 2317.4L979.2 2546.4" stroke="#e2e2e2" stroke-width="1.0" fill="none"/>
<path d="M166.5 2412.5L166.5 2168.7" stroke="#454545" stroke-width="1.1" fill="none"/>
<path d="M166.5 2412.5L444.1 2641.5" stroke="#454545" stroke-width="1.1" fill="none"/>
<path d="M444.1 2641.5L1044.7 2534.7" stroke="#454545" stroke-width="1.1" fill="none"/>
<path d="M166.5 2412.5L153.9 2403.9" stroke="#454545" stroke-width="1.0" fill="none"/>
<text class="tk" x="149.2" y="2404.5" font-size="18.4" letter-spacing="0.5" text-anchor="end">-100</text>
<path d="M166.5 2351.6L153.9 2343.0" stroke="#454545" stroke-width="1.0" fill="none"/>
<text class="tk" x="149.2" y="2343.6" font-size="18.4" letter-spacing="0.5" text-anchor="end">-50</text>
<path d="M166.5 2290.6L153.9 2282.0" stroke="#454545" stroke-width="1.0" fill="none"/>
<text class="tk" x="149.2" y="2282.6" font-size="18.4" letter-spacing="0.5" text-anchor="end">0</text>
<path d="M166.5 2229.6L153.9 2221.0" stroke="#454545" stroke-width="1.0" fill="none"/>
<text class="tk" x="149.2" y="2221.6" font-size="18.4" letter-spacing="0.5" text-anchor="end">50</text>
<path d="M166.5 2168.7L153.9 2160.1" stroke="#454545" stroke-width="1.0" fill="none"/>
<text class="tk" x="149.2" y="2160.7" font-size="18.4" letter-spacing="0.5" text-anchor="end">100</text>
<path d="M166.5 2412.5L151.0 2415.5" stroke="#454545" stroke-width="1.0" fill="none"/>
<text class="tk" x="143.3" y="2433.8" font-size="18.4" letter-spacing="0.5" text-anchor="end">4.5655</text>
<path d="M201.2 2441.1L185.7 2444.1" stroke="#454545" stroke-width="1.0" fill="none"/>
<text class="tk" x="178.0" y="2462.4" font-size="18.4" letter-spacing="0.5" text-anchor="end">4.566</text>
<path d="M235.9 2469.8L220.4 2472.8" stroke="#454545" stroke-width="1.0" fill="none"/>
<text class="tk" x="212.7" y="2491.1" font-size="18.4" letter-spacing="0.5" text-anchor="end">4.5665</text>
<path d="M270.6 2498.4L255.1 2501.4" stroke="#454545" stroke-width="1.0" fill="none"/>
<text class="tk" x="247.4" y="2519.7" font-size="18.4" letter-spacing="0.5" text-anchor="end">4.567</text>
<path d="M305.3 2527.0L289.8 2530.0" stroke="#454545" stroke-width="1.0" fill="none"/>
<text class="tk" x="282.1" y="2548.3" font-size="18.4" letter-spacing="0.5" text-anchor="end">4.5675</text>
<path d="M340.0 2555.6L324.5 2558.6" stroke="#454545" stroke-width="1.0" fill="none"/>
<text class="tk" x="316.8" y="2576.9" font-size="18.4" letter-spacing="0.5" text-anchor="end">4.568</text>
<path d="M374.7 2584.2L359.2 2587.2" stroke="#454545" stroke-width="1.0" fill="none"/>
<text class="tk" x="351.5" y="2605.6" font-size="18.4" letter-spacing="0.5" text-anchor="end">4.5685</text>
<path d="M409.4 2612.9L393.9 2615.9" stroke="#454545" stroke-width="1.0" fill="none"/>
<text class="tk" x="386.2" y="2634.2" font-size="18.4" letter-spacing="0.5" text-anchor="end">4.569</text>
<path d="M444.1 2641.5L428.6 2644.5" stroke="#454545" stroke-width="1.0" fill="none"/>
<text class="tk" x="420.9" y="2662.8" font-size="18.4" letter-spacing="0.5" text-anchor="end">4.5695</text>
<path d="M511.4 2629.5L522.9 2639.0" stroke="#454545" stroke-width="1.0" fill="none"/>
<text class="tk" x="531.4" y="2659.8" font-size="18.4" letter-spacing="0.5">3.9316</text>
<path d="M578.2 2617.7L589.7 2627.2" stroke="#454545" stroke-width="1.0" fill="none"/>
<text class="tk" x="598.2" y="2648.0" font-size="18.4" letter-spacing="0.5">3.9317</text>
<path d="M645.0 2605.8L656.5 2615.3" stroke="#454545" stroke-width="1.0" fill="none"/>
<text class="tk" x="665.0" y="2636.1" font-size="18.4" letter-spacing="0.5">3.9318</text>
<path d="M711.9 2593.9L723.4 2603.4" stroke="#454545" stroke-width="1.0" fill="none"/>
<text class="tk" x="731.9" y="2624.2" font-size="18.4" letter-spacing="0.5">3.9319</text>
<path d="M778.7 2582.0L790.2 2591.5" stroke="#454545" stroke-width="1.0" fill="none"/>
<text class="tk" x="798.7" y="2612.3" font-size="18.4" letter-spacing="0.5">3.932</text>
<path d="M845.5 2570.1L857.0 2579.6" stroke="#454545" stroke-width="1.0" fill="none"/>
<text class="tk" x="865.5" y="2600.4" font-size="18.4" letter-spacing="0.5">3.9321</text>
<path d="M912.3 2558.2L923.8 2567.7" stroke="#454545" stroke-width="1.0" fill="none"/>
<text class="tk" x="932.3" y="2588.5" font-size="18.4" letter-spacing="0.5">3.9322</text>
<path d="M979.2 2546.4L990.7 2555.9" stroke="#454545" stroke-width="1.0" fill="none"/>
<text class="tk" x="999.2" y="2576.7" font-size="18.4" letter-spacing="0.5">3.9323</text>
<text class="tk" x="105.5" y="2525.5" font-size="18.4" letter-spacing="0.5"><tspan font-size="23">×</tspan>10<tspan dy="-7" font-size="12.5">5</tspan></text>
<text class="lb" x="247.5" y="2644.5" font-size="21.7" text-anchor="middle">Azimuth</text>
<text class="lb" x="720.4" y="2674.5" font-size="21.7" text-anchor="middle">Ground</text>
<text class="lb" transform="translate(98.5,2290) rotate(-90)" font-size="21.7" text-anchor="middle">Height</text>
</g>
<defs><clipPath id="ce"><polygon points="301.5,2389.2 340.2,2324.8 408.8,2303.3 430.3,2251.8 408.8,2213.1 490.4,2174.5 563.4,2138.0 614.9,2123.0 700.8,2114.4 739.4,2103.7 790.9,2123.0 821.0,2157.3 928.3,2234.6 945.5,2256.1 928.3,2277.5 872.5,2307.6 868.2,2393.5 851.0,2436.4 821.0,2479.3 722.2,2513.7 602.0,2518.0 584.9,2543.7 516.2,2556.6 464.7,2530.8 391.7,2457.8 335.9,2436.4"/></clipPath></defs>
<g clip-path="url(#ce)"><g filter="url(#ms)"><ellipse cx="593.5" cy="2316.2" rx="274.8" ry="180.3" transform="rotate(25 593.5 2316.2)" fill="#1fb3c4" opacity="0.90"/><ellipse cx="786.6" cy="2204.6" rx="146.0" ry="85.9" transform="rotate(32 786.6 2204.6)" fill="#58c47c" opacity="1.00"/><ellipse cx="743.7" cy="2157.3" rx="85.9" ry="30.1" transform="rotate(35 743.7 2157.3)" fill="#d2bd2e" opacity="1.00"/><ellipse cx="872.5" cy="2230.3" rx="51.5" ry="25.8" transform="rotate(35 872.5 2230.3)" fill="#d2bd2e" opacity="1.00"/><ellipse cx="413.1" cy="2445.0" rx="98.7" ry="34.3" transform="rotate(30 413.1 2445.0)" fill="#d2bd2e" opacity="1.00"/><ellipse cx="529.1" cy="2530.8" rx="85.9" ry="25.8" transform="rotate(20 529.1 2530.8)" fill="#d2bd2e" opacity="1.00"/><ellipse cx="713.7" cy="2470.7" rx="111.6" ry="38.6" transform="rotate(10 713.7 2470.7)" fill="#1fb3c4" opacity="1.00"/><ellipse cx="348.7" cy="2393.5" rx="51.5" ry="25.8" transform="rotate(20 348.7 2393.5)" fill="#1fb3c4" opacity="1.00"/><ellipse cx="765.2" cy="2359.1" rx="111.6" ry="55.8" transform="rotate(15 765.2 2359.1)" fill="#3a6cf4" opacity="1.00"/><ellipse cx="378.8" cy="2324.8" rx="51.5" ry="21.5" transform="rotate(10 378.8 2324.8)" fill="#4431c2" opacity="1.00"/><ellipse cx="473.2" cy="2221.7" rx="68.7" ry="25.8" transform="rotate(-20 473.2 2221.7)" fill="#58c47c" opacity="1.00"/></g></g>
<g filter="url(#mm)"><ellipse cx="627.8" cy="2243.2" rx="128.8" ry="49.4" transform="rotate(39 627.8 2243.2)" fill="#58c47c" opacity="1.00"/><ellipse cx="649.3" cy="2211.0" rx="107.3" ry="19.3" transform="rotate(39 649.3 2211.0)" fill="#d2bd2e" opacity="1.00"/><ellipse cx="786.6" cy="2213.1" rx="107.3" ry="47.2" transform="rotate(35 786.6 2213.1)" fill="#58c47c" opacity="0.90"/><ellipse cx="859.6" cy="2238.9" rx="51.5" ry="17.2" transform="rotate(35 859.6 2238.9)" fill="#d2bd2e" opacity="0.80"/><ellipse cx="730.8" cy="2153.0" rx="51.5" ry="17.2" transform="rotate(35 730.8 2153.0)" fill="#d2bd2e" opacity="0.80"/><ellipse cx="516.2" cy="2251.8" rx="85.9" ry="38.6" transform="rotate(30 516.2 2251.8)" fill="#1fb3c4" opacity="1.00"/><ellipse cx="559.1" cy="2299.0" rx="128.8" ry="38.6" transform="rotate(30 559.1 2299.0)" fill="#3a6cf4" opacity="1.00"/><ellipse cx="490.4" cy="2320.5" rx="141.7" ry="32.2" transform="rotate(12 490.4 2320.5)" fill="#4431c2" opacity="1.00"/><ellipse cx="657.8" cy="2402.0" rx="141.7" ry="30.1" transform="rotate(8 657.8 2402.0)" fill="#4431c2" opacity="1.00"/><ellipse cx="786.6" cy="2384.9" rx="73.0" ry="25.8" transform="rotate(0 786.6 2384.9)" fill="#4431c2" opacity="1.00"/><ellipse cx="743.7" cy="2346.2" rx="85.9" ry="30.1" transform="rotate(10 743.7 2346.2)" fill="#3a6cf4" opacity="1.00"/><ellipse cx="456.1" cy="2419.2" rx="141.7" ry="47.2" transform="rotate(25 456.1 2419.2)" fill="#1fb3c4" opacity="1.00"/><ellipse cx="576.3" cy="2479.3" rx="77.3" ry="34.3" transform="rotate(20 576.3 2479.3)" fill="#1fb3c4" opacity="1.00"/><ellipse cx="391.7" cy="2436.4" rx="60.1" ry="17.2" transform="rotate(35 391.7 2436.4)" fill="#a5c94a" opacity="1.00"/><ellipse cx="524.8" cy="2526.5" rx="60.1" ry="15.0" transform="rotate(20 524.8 2526.5)" fill="#d2bd2e" opacity="1.00"/><ellipse cx="447.5" cy="2230.3" rx="51.5" ry="25.8" transform="rotate(-10 447.5 2230.3)" fill="#58c47c" opacity="1.00"/><ellipse cx="554.0" cy="2350.5" rx="60.1" ry="30.1" transform="rotate(20 554.0 2350.5)" fill="#4431c2" opacity="0.90"/><ellipse cx="662.1" cy="2346.2" rx="51.5" ry="25.8" transform="rotate(10 662.1 2346.2)" fill="#3a6cf4" opacity="1.00"/><ellipse cx="464.7" cy="2264.7" rx="42.9" ry="21.5" transform="rotate(0 464.7 2264.7)" fill="#3a6cf4" opacity="0.80"/><ellipse cx="679.3" cy="2290.4" rx="51.5" ry="25.8" transform="rotate(20 679.3 2290.4)" fill="#1fb3c4" opacity="0.80"/><ellipse cx="821.0" cy="2333.3" rx="38.6" ry="25.8" transform="rotate(0 821.0 2333.3)" fill="#3a6cf4" opacity="1.00"/><ellipse cx="696.5" cy="2462.1" rx="85.9" ry="21.5" transform="rotate(5 696.5 2462.1)" fill="#1fb3c4" opacity="0.80"/></g>
<g filter="url(#md)"><ellipse cx="623.5" cy="2238.9" rx="111.6" ry="34.3" transform="rotate(39 623.5 2238.9)" fill="#58c47c" opacity="1.00"/><ellipse cx="662.1" cy="2221.7" rx="85.9" ry="12.0" transform="rotate(39 662.1 2221.7)" fill="#d2bd2e" opacity="1.00"/><ellipse cx="576.3" cy="2165.9" rx="30.1" ry="17.2" transform="rotate(39 576.3 2165.9)" fill="#d2bd2e" opacity="1.00"/><ellipse cx="550.5" cy="2290.4" rx="85.9" ry="23.6" transform="rotate(30 550.5 2290.4)" fill="#3a6cf4" opacity="1.00"/><ellipse cx="490.4" cy="2316.2" rx="85.9" ry="17.2" transform="rotate(12 490.4 2316.2)" fill="#4431c2" opacity="1.00"/><ellipse cx="636.4" cy="2402.0" rx="77.3" ry="17.2" transform="rotate(8 636.4 2402.0)" fill="#4431c2" opacity="1.00"/><ellipse cx="756.6" cy="2393.5" rx="51.5" ry="15.0" transform="rotate(0 756.6 2393.5)" fill="#4431c2" opacity="1.00"/><ellipse cx="391.7" cy="2384.9" rx="38.6" ry="19.3" transform="rotate(20 391.7 2384.9)" fill="#1fb3c4" opacity="1.00"/><ellipse cx="516.2" cy="2487.9" rx="42.9" ry="23.6" transform="rotate(20 516.2 2487.9)" fill="#1fb3c4" opacity="1.00"/><ellipse cx="456.1" cy="2393.5" rx="47.2" ry="21.5" transform="rotate(20 456.1 2393.5)" fill="#1fb3c4" opacity="1.00"/><ellipse cx="576.3" cy="2470.7" rx="34.3" ry="21.5" transform="rotate(20 576.3 2470.7)" fill="#1fb3c4" opacity="1.00"/><ellipse cx="730.8" cy="2350.5" rx="51.5" ry="19.3" transform="rotate(10 730.8 2350.5)" fill="#3a6cf4" opacity="1.00"/><ellipse cx="516.2" cy="2234.6" rx="51.5" ry="21.5" transform="rotate(30 516.2 2234.6)" fill="#1fb3c4" opacity="1.00"/><ellipse cx="365.9" cy="2324.8" rx="30.1" ry="12.9" transform="rotate(10 365.9 2324.8)" fill="#4431c2" opacity="1.00"/></g>
<defs><linearGradient id="cg0" gradientUnits="userSpaceOnUse" x1="0" y1="2182.1" x2="0" y2="2318.7"><stop offset="0" stop-color="#f2b62c"/><stop offset="0.3" stop-color="#35b8b0"/><stop offset="0.62" stop-color="#3a6cf4"/><stop offset="1" stop-color="#3f2cb4"/></linearGradient><linearGradient id="cg1" gradientUnits="userSpaceOnUse" x1="0" y1="2169.7" x2="0" y2="2340.0"><stop offset="0" stop-color="#f2b62c"/><stop offset="0.3" stop-color="#35b8b0"/><stop offset="0.62" stop-color="#3a6cf4"/><stop offset="1" stop-color="#3f2cb4"/></linearGradient><linearGradient id="cg2" gradientUnits="userSpaceOnUse" x1="0" y1="2222.9" x2="0" y2="2332.9"><stop offset="0" stop-color="#f2b62c"/><stop offset="0.3" stop-color="#35b8b0"/><stop offset="0.62" stop-color="#3a6cf4"/><stop offset="1" stop-color="#3f2cb4"/></linearGradient><linearGradient id="cg3" gradientUnits="userSpaceOnUse" x1="0" y1="2209.4" x2="0" y2="2347.1"><stop offset="0" stop-color="#f2b62c"/><stop offset="0.3" stop-color="#35b8b0"/><stop offset="0.62" stop-color="#3a6cf4"/><stop offset="1" stop-color="#3f2cb4"/></linearGradient><linearGradient id="cg4" gradientUnits="userSpaceOnUse" x1="0" y1="2250.6" x2="0" y2="2368.4"><stop offset="0" stop-color="#f2b62c"/><stop offset="0.3" stop-color="#35b8b0"/><stop offset="0.62" stop-color="#3a6cf4"/><stop offset="1" stop-color="#3f2cb4"/></linearGradient><linearGradient id="cg5" gradientUnits="userSpaceOnUse" x1="0" y1="2237.1" x2="0" y2="2368.4"><stop offset="0" stop-color="#f2b62c"/><stop offset="0.3" stop-color="#35b8b0"/><stop offset="0.62" stop-color="#3a6cf4"/><stop offset="1" stop-color="#3f2cb4"/></linearGradient><linearGradient id="cg6" gradientUnits="userSpaceOnUse" x1="0" y1="2286.8" x2="0" y2="2425.2"><stop offset="0" stop-color="#f2b62c"/><stop offset="0.3" stop-color="#35b8b0"/><stop offset="0.62" stop-color="#3a6cf4"/><stop offset="1" stop-color="#3f2cb4"/></linearGradient><linearGradient id="cg7" gradientUnits="userSpaceOnUse" x1="0" y1="2276.2" x2="0" y2="2411.0"><stop offset="0" stop-color="#f2b62c"/><stop offset="0.3" stop-color="#35b8b0"/><stop offset="0.62" stop-color="#3a6cf4"/><stop offset="1" stop-color="#3f2cb4"/></linearGradient><linearGradient id="cg8" gradientUnits="userSpaceOnUse" x1="0" y1="2199.9" x2="0" y2="2318.7"><stop offset="0" stop-color="#1fa8d0"/><stop offset="0.3" stop-color="#1fa8d0"/><stop offset="0.62" stop-color="#3a6cf4"/><stop offset="1" stop-color="#3f2cb4"/></linearGradient><linearGradient id="cg9" gradientUnits="userSpaceOnUse" x1="0" y1="2191.0" x2="0" y2="2332.9"><stop offset="0" stop-color="#1fa8d0"/><stop offset="0.3" stop-color="#1fa8d0"/><stop offset="0.62" stop-color="#3a6cf4"/><stop offset="1" stop-color="#3f2cb4"/></linearGradient><linearGradient id="cg10" gradientUnits="userSpaceOnUse" x1="0" y1="2185.7" x2="0" y2="2332.9"><stop offset="0" stop-color="#1fa8d0"/><stop offset="0.3" stop-color="#1fa8d0"/><stop offset="0.62" stop-color="#3a6cf4"/><stop offset="1" stop-color="#3f2cb4"/></linearGradient><linearGradient id="cg11" gradientUnits="userSpaceOnUse" x1="0" y1="2225.4" x2="0" y2="2368.4"><stop offset="0" stop-color="#8cc850"/><stop offset="0.3" stop-color="#35b8b0"/><stop offset="0.62" stop-color="#3a6cf4"/><stop offset="1" stop-color="#3f2cb4"/></linearGradient><linearGradient id="cg12" gradientUnits="userSpaceOnUse" x1="0" y1="2229.0" x2="0" y2="2347.1"><stop offset="0" stop-color="#1fa8d0"/><stop offset="0.3" stop-color="#1fa8d0"/><stop offset="0.62" stop-color="#3a6cf4"/><stop offset="1" stop-color="#3f2cb4"/></linearGradient><linearGradient id="cg13" gradientUnits="userSpaceOnUse" x1="0" y1="2260.2" x2="0" y2="2375.5"><stop offset="0" stop-color="#1fa8d0"/><stop offset="0.3" stop-color="#1fa8d0"/><stop offset="0.62" stop-color="#3a6cf4"/><stop offset="1" stop-color="#3f2cb4"/></linearGradient><linearGradient id="cg14" gradientUnits="userSpaceOnUse" x1="0" y1="2272.6" x2="0" y2="2375.5"><stop offset="0" stop-color="#1fa8d0"/><stop offset="0.3" stop-color="#1fa8d0"/><stop offset="0.62" stop-color="#3a6cf4"/><stop offset="1" stop-color="#3f2cb4"/></linearGradient><linearGradient id="cg15" gradientUnits="userSpaceOnUse" x1="0" y1="2313.4" x2="0" y2="2396.8"><stop offset="0" stop-color="#1fa8d0"/><stop offset="0.3" stop-color="#1fa8d0"/><stop offset="0.62" stop-color="#3a6cf4"/><stop offset="1" stop-color="#3f2cb4"/></linearGradient><linearGradient id="cg16" gradientUnits="userSpaceOnUse" x1="0" y1="2306.3" x2="0" y2="2389.7"><stop offset="0" stop-color="#1fa8d0"/><stop offset="0.3" stop-color="#1fa8d0"/><stop offset="0.62" stop-color="#3a6cf4"/><stop offset="1" stop-color="#3f2cb4"/></linearGradient><linearGradient id="cg17" gradientUnits="userSpaceOnUse" x1="0" y1="2301.0" x2="0" y2="2382.6"><stop offset="0" stop-color="#1fa8d0"/><stop offset="0.3" stop-color="#1fa8d0"/><stop offset="0.62" stop-color="#3a6cf4"/><stop offset="1" stop-color="#3f2cb4"/></linearGradient></defs>
<g filter="url(#mg)"><polygon points="1547.7,2316.0 1711.7,2450.7 1719.1,2449.0 1555.1,2314.2" fill="#3f2cb4"/><polygon points="1545.7,2303.0 1714.7,2441.8 1724.2,2439.5 1555.2,2300.7" fill="#3f2cb4"/><polygon points="1560.7,2299.7 1736.8,2444.4 1741.4,2443.3 1565.2,2298.6" fill="#3f2cb4"/><polygon points="1572.2,2298.2 1744.8,2440.0 1753.2,2438.0 1580.6,2296.2" fill="#3f2cb4"/><polygon points="1599.4,2302.1 1759.2,2433.3 1769.6,2430.8 1609.8,2299.6" fill="#3f2cb4"/><polygon points="1625.9,2302.2 1781.6,2430.0 1795.4,2426.7 1639.8,2298.9" fill="#3f2cb4"/><polygon points="1630.4,2288.6 1788.4,2418.4 1794.1,2417.1 1636.1,2287.2" fill="#3f2cb4"/><polygon points="1646.3,2292.3 1805.1,2422.9 1811.1,2421.4 1652.3,2290.9" fill="#3f2cb4"/><polygon points="1646.8,2279.0 1821.1,2422.2 1830.7,2419.9 1656.4,2276.7" fill="#3f2cb4"/><polygon points="1664.5,2280.6 1826.6,2413.7 1837.5,2411.1 1675.4,2278.0" fill="#3f2cb4"/><polygon points="1692.4,2285.9 1839.4,2406.7 1848.1,2404.6 1701.1,2283.9" fill="#3f2cb4"/><polygon points="1716.6,2291.7 1856.7,2406.8 1867.8,2404.1 1727.7,2289.1" fill="#3f2cb4"/><polygon points="1744.3,2298.3 1869.2,2400.9 1878.6,2398.6 1753.7,2296.1" fill="#3f2cb4"/></g>
<g filter="url(#mg2)"><polygon points="1778.6,2306.5 1899.0,2405.4 1906.0,2403.7 1785.7,2304.8" fill="#3f2cb4"/><polygon points="1810.3,2314.1 1915.8,2400.8 1924.1,2398.8 1818.6,2312.1" fill="#3f2cb4"/><polygon points="1829.3,2318.6 1917.0,2390.7 1926.0,2388.5 1838.3,2316.4" fill="#3f2cb4"/><polygon points="1845.9,2322.5 1922.4,2385.5 1934.2,2382.7 1857.6,2319.8" fill="#3f2cb4"/><polygon points="1870.1,2328.3 1940.8,2386.4 1948.1,2384.7 1877.4,2326.6" fill="#3f2cb4"/><polygon points="1880.0,2326.7 1945.7,2380.6 1955.6,2378.3 1890.0,2324.3" fill="#3f2cb4"/><polygon points="1891.2,2324.0 1960.0,2380.5 1973.5,2377.3 1904.8,2320.8" fill="#3f2cb4"/><polygon points="1906.1,2320.5 1975.2,2377.3 1980.0,2376.1 1910.9,2319.4" fill="#3f2cb4"/><polygon points="1912.9,2318.9 1988.5,2381.0 2002.4,2377.7 1926.9,2315.6" fill="#3f2cb4"/><polygon points="1929.2,2315.0 2009.4,2381.0 2017.5,2379.1 1937.2,2313.1" fill="#3f2cb4"/><polygon points="1939.1,2312.7 2017.6,2377.3 2026.4,2375.2 1947.8,2310.6" fill="#3f2cb4"/><polygon points="1948.3,2310.5 2026.7,2374.9 2031.4,2373.7 1953.1,2309.4" fill="#3f2cb4"/><polygon points="1955.2,2308.9 2020.3,2362.3 2027.0,2360.7 1961.9,2307.3" fill="#3f2cb4"/><polygon points="1963.0,2307.0 2033.8,2365.2 2038.8,2364.0 1968.0,2305.8" fill="#3f2cb4"/><polygon points="1969.3,2305.5 2034.5,2359.1 2047.4,2356.0 1982.2,2302.5" fill="#3f2cb4"/></g>
<g filter="url(#mm2)"><polygon points="1674.1,2167.5 1724.8,2196.7 1730.8,2327.5 1668.1,2310.0" fill="url(#cg0)"/><polygon points="1727.3,2155.0 1778.0,2184.3 1784.0,2348.8 1721.3,2331.3" fill="url(#cg1)"/><polygon points="1741.3,2215.1 1771.2,2230.7 1777.2,2337.6 1735.3,2328.3" fill="url(#cg2)"/><polygon points="1793.1,2201.1 1824.4,2217.7 1830.4,2352.1 1787.1,2342.2" fill="url(#cg3)"/><polygon points="1776.8,2242.8 1806.7,2258.4 1812.7,2373.1 1770.8,2363.7" fill="url(#cg4)"/><polygon points="1828.6,2228.8 1859.9,2245.4 1865.9,2373.4 1822.6,2363.5" fill="url(#cg5)"/><polygon points="1811.1,2277.0 1846.9,2296.6 1852.9,2431.1 1805.1,2419.4" fill="url(#cg6)"/><polygon points="1867.9,2266.4 1903.7,2285.9 1909.7,2416.9 1861.9,2405.2" fill="url(#cg7)"/><polygon points="1777.8,2195.5 1797.2,2204.2 1803.2,2321.4 1771.8,2316.1" fill="url(#cg8)"/><polygon points="1822.9,2183.2 1852.8,2198.8 1858.8,2337.6 1816.9,2328.3" fill="url(#cg9)"/><polygon points="1861.8,2175.9 1897.6,2195.4 1903.6,2338.8 1855.8,2327.1" fill="url(#cg10)"/><polygon points="1854.1,2211.7 1901.8,2239.1 1907.8,2376.6 1848.1,2360.2" fill="url(#cg11)"/><polygon points="1913.5,2221.6 1941.8,2236.3 1947.8,2351.5 1907.5,2342.7" fill="url(#cg12)"/><polygon points="1949.0,2252.9 1977.3,2267.5 1983.3,2379.9 1943.0,2371.1" fill="url(#cg13)"/><polygon points="1929.6,2267.2 1952.0,2278.0 1958.0,2378.7 1923.6,2372.3" fill="url(#cg14)"/><polygon points="1912.2,2303.7 1948.0,2323.2 1954.0,2402.7 1906.2,2391.0" fill="url(#cg15)"/><polygon points="1966.7,2299.0 1995.1,2313.6 2001.1,2394.1 1960.7,2385.3" fill="url(#cg16)"/><polygon points="2000.7,2292.2 2033.5,2309.8 2039.5,2387.9 1994.7,2377.4" fill="url(#cg17)"/></g>
<g filter="url(#mc)"><ellipse cx="1699.5" cy="2182.1" rx="28.7" ry="9.2" transform="rotate(33 1699.5 2182.1)" fill="#f2b62c"/><ellipse cx="1752.7" cy="2169.7" rx="28.7" ry="9.2" transform="rotate(33 1752.7 2169.7)" fill="#f2b62c"/><ellipse cx="1756.2" cy="2222.9" rx="15.3" ry="7.8" transform="rotate(33 1756.2 2222.9)" fill="#f2b62c"/><ellipse cx="1808.8" cy="2209.4" rx="16.3" ry="8.5" transform="rotate(33 1808.8 2209.4)" fill="#f2b62c"/><ellipse cx="1791.7" cy="2250.6" rx="15.3" ry="8.5" transform="rotate(33 1791.7 2250.6)" fill="#f2b62c"/><ellipse cx="1844.3" cy="2237.1" rx="16.3" ry="8.9" transform="rotate(33 1844.3 2237.1)" fill="#f2b62c"/><ellipse cx="1829.0" cy="2286.8" rx="19.2" ry="9.8" transform="rotate(33 1829.0 2286.8)" fill="#f2b62c"/><ellipse cx="1885.8" cy="2276.2" rx="19.2" ry="10.3" transform="rotate(33 1885.8 2276.2)" fill="#f2b62c"/><ellipse cx="1787.5" cy="2199.9" rx="8.6" ry="6.4" transform="rotate(33 1787.5 2199.9)" fill="#1fa8d0"/><ellipse cx="1837.9" cy="2191.0" rx="15.3" ry="7.8" transform="rotate(33 1837.9 2191.0)" fill="#1fa8d0"/><ellipse cx="1879.7" cy="2185.7" rx="19.2" ry="9.8" transform="rotate(33 1879.7 2185.7)" fill="#1fa8d0"/><ellipse cx="1878.0" cy="2225.4" rx="26.8" ry="10.6" transform="rotate(33 1878.0 2225.4)" fill="#8cc850"/><ellipse cx="1927.7" cy="2229.0" rx="14.4" ry="7.5" transform="rotate(33 1927.7 2229.0)" fill="#1fa8d0"/><ellipse cx="1963.1" cy="2260.2" rx="14.4" ry="7.8" transform="rotate(33 1963.1 2260.2)" fill="#1fa8d0"/><ellipse cx="1940.8" cy="2272.6" rx="10.5" ry="6.4" transform="rotate(33 1940.8 2272.6)" fill="#1fa8d0"/><ellipse cx="1930.1" cy="2313.4" rx="19.2" ry="8.9" transform="rotate(33 1930.1 2313.4)" fill="#1fa8d0"/><ellipse cx="1980.9" cy="2306.3" rx="14.4" ry="7.8" transform="rotate(33 1980.9 2306.3)" fill="#1fa8d0"/><ellipse cx="2017.1" cy="2301.0" rx="17.2" ry="8.9" transform="rotate(33 2017.1 2301.0)" fill="#1fa8d0"/></g>
<g filter="url(#mx)"><ellipse cx="1979.1" cy="2208.7" rx="56.8" ry="42.6" transform="rotate(0 1979.1 2208.7)" fill="#6cc8a0" opacity="1.00"/><ellipse cx="2032.3" cy="2237.1" rx="42.6" ry="28.4" transform="rotate(0 2032.3 2237.1)" fill="#e0c050" opacity="1.00"/><ellipse cx="1908.1" cy="2151.9" rx="42.6" ry="21.3" transform="rotate(0 1908.1 2151.9)" fill="#e0c050" opacity="1.00"/></g>
</svg>
<div class="cap" style="left:586.0px;top:794.5px">(<b>a</b>)</div>
<div class="cap" style="left:1769.0px;top:794.5px">(<b>b</b>)</div>
<div class="cap" style="left:586.0px;top:1864.5px">(<b>c</b>)</div>
<div class="cap" style="left:1769.5px;top:1864.5px">(<b>d</b>)</div>
<div class="cap" style="left:586.0px;top:2742.5px">(<b>e</b>)</div>
<div class="cap" style="left:1769.0px;top:2742.5px">(<b>f</b>)</div>
</div></body></html>
